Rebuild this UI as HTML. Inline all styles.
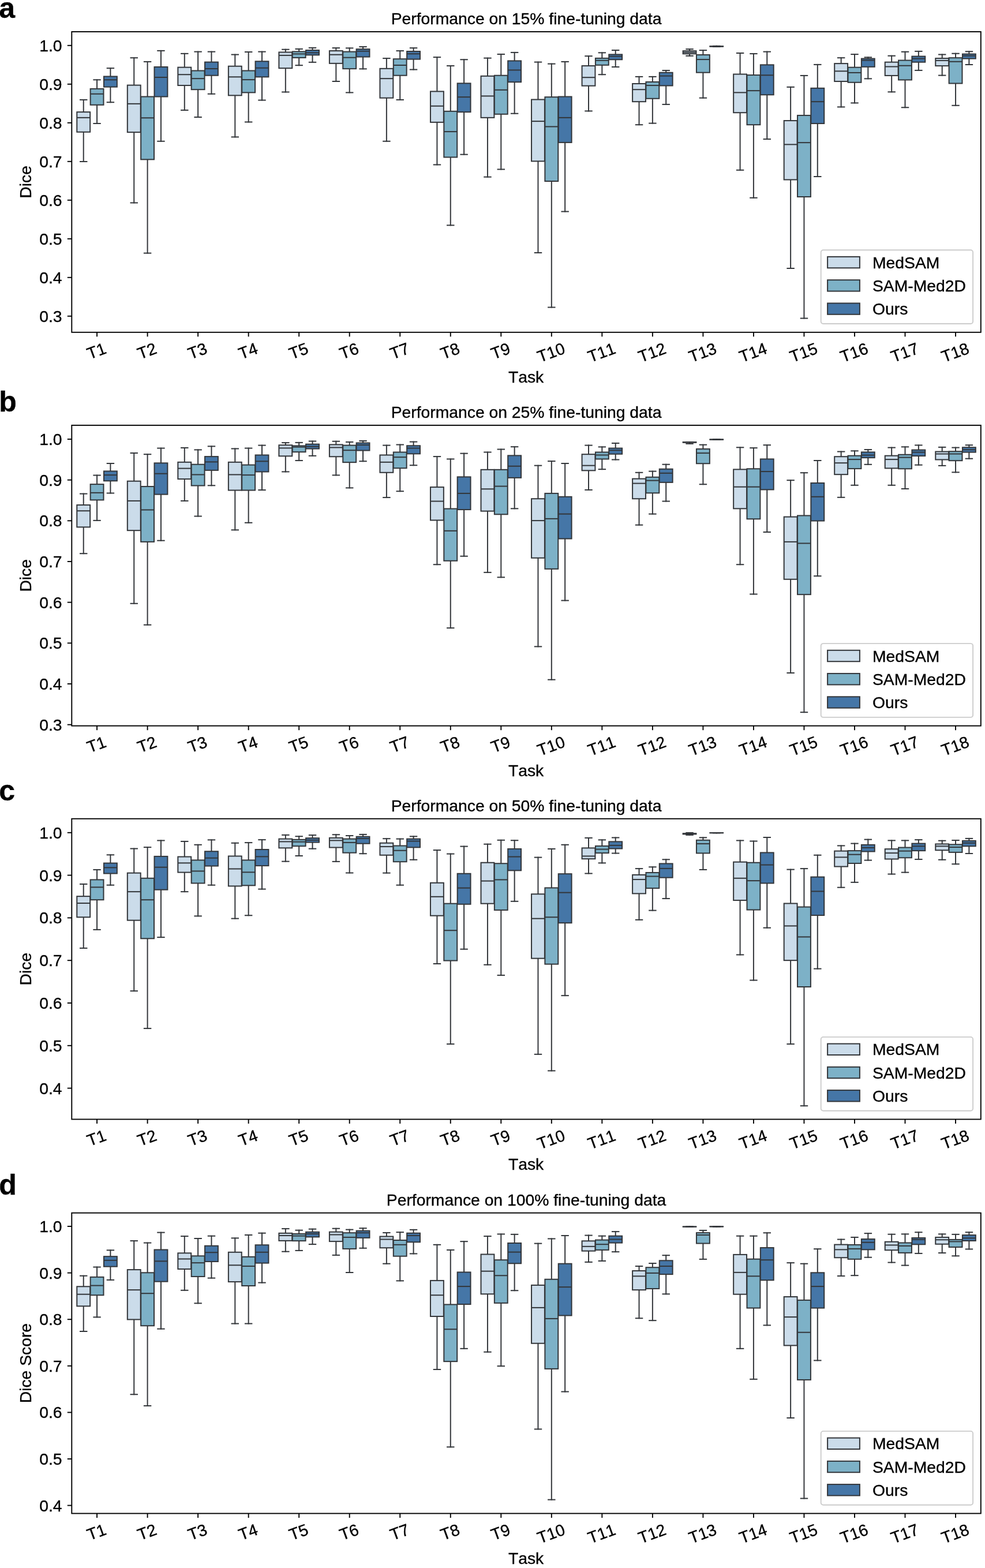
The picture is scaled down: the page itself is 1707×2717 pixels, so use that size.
<!DOCTYPE html><html><head><meta charset="utf-8"><title>Performance on fine-tuning data</title><style>html,body{margin:0;padding:0;background:#fff;}svg{display:block;}text{font-family:'Liberation Sans', Arial, Helvetica, sans-serif;fill:#000;stroke:#000;stroke-width:0.35px;font-kerning:none;}</style></head><body>
<svg width="1707" height="2717" viewBox="0 0 1707 2717">
<rect x="0" y="0" width="1707" height="2717" fill="#fff"/>
<text x="-1.7" y="30.5" font-size="50" font-weight="bold">a</text>
<text x="912.05" y="42.4" font-size="28.3" text-anchor="middle">Performance on 15% fine-tuning data</text>
<g stroke="#33363a" stroke-width="2" stroke-linecap="square">
<line x1="144.72" y1="172.92" x2="144.72" y2="194.12"/>
<line x1="144.72" y1="228.74" x2="144.72" y2="280.02"/>
<line x1="139" y1="172.92" x2="150.44" y2="172.92"/>
<line x1="139" y1="280.02" x2="150.44" y2="280.02"/>
<rect x="133.29" y="194.12" width="22.87" height="34.62" fill="#cbdcea" stroke-linejoin="miter"/>
<line x1="133.29" y1="203.86" x2="156.16" y2="203.86" stroke-linecap="butt"/>
<line x1="168.06" y1="138.3" x2="168.06" y2="153.88"/>
<line x1="168.06" y1="181.79" x2="168.06" y2="214.03"/>
<line x1="162.35" y1="138.3" x2="173.78" y2="138.3"/>
<line x1="162.35" y1="214.03" x2="173.78" y2="214.03"/>
<rect x="156.63" y="153.88" width="22.87" height="27.91" fill="#7db1c7" stroke-linejoin="miter"/>
<line x1="156.63" y1="162.75" x2="179.5" y2="162.75" stroke-linecap="butt"/>
<line x1="191.4" y1="118.18" x2="191.4" y2="132.46"/>
<line x1="191.4" y1="150.63" x2="191.4" y2="177.24"/>
<line x1="185.69" y1="118.18" x2="197.12" y2="118.18"/>
<line x1="185.69" y1="177.24" x2="197.12" y2="177.24"/>
<rect x="179.97" y="132.46" width="22.87" height="18.17" fill="#4576a7" stroke-linejoin="miter"/>
<line x1="179.97" y1="138.3" x2="202.84" y2="138.3" stroke-linecap="butt"/>
<line x1="232.25" y1="100.22" x2="232.25" y2="147.6"/>
<line x1="232.25" y1="229.17" x2="232.25" y2="351.42"/>
<line x1="226.53" y1="100.22" x2="237.97" y2="100.22"/>
<line x1="226.53" y1="351.42" x2="237.97" y2="351.42"/>
<rect x="220.81" y="147.6" width="22.87" height="81.57" fill="#cbdcea" stroke-linejoin="miter"/>
<line x1="220.81" y1="179.84" x2="243.69" y2="179.84" stroke-linecap="butt"/>
<line x1="255.59" y1="106.93" x2="255.59" y2="167.51"/>
<line x1="255.59" y1="276.34" x2="255.59" y2="438.61"/>
<line x1="249.87" y1="106.93" x2="261.31" y2="106.93"/>
<line x1="249.87" y1="438.61" x2="261.31" y2="438.61"/>
<rect x="244.15" y="167.51" width="22.87" height="108.83" fill="#7db1c7" stroke-linejoin="miter"/>
<line x1="244.15" y1="204.29" x2="267.03" y2="204.29" stroke-linecap="butt"/>
<line x1="278.93" y1="87.89" x2="278.93" y2="116.01"/>
<line x1="278.93" y1="167.51" x2="278.93" y2="244.75"/>
<line x1="273.21" y1="87.89" x2="284.65" y2="87.89"/>
<line x1="273.21" y1="244.75" x2="284.65" y2="244.75"/>
<rect x="267.5" y="116.01" width="22.87" height="51.49" fill="#4576a7" stroke-linejoin="miter"/>
<line x1="267.5" y1="133.97" x2="290.37" y2="133.97" stroke-linecap="butt"/>
<line x1="319.78" y1="92.86" x2="319.78" y2="116.66"/>
<line x1="319.78" y1="148.04" x2="319.78" y2="190.88"/>
<line x1="314.06" y1="92.86" x2="325.5" y2="92.86"/>
<line x1="314.06" y1="190.88" x2="325.5" y2="190.88"/>
<rect x="308.34" y="116.66" width="22.87" height="31.37" fill="#cbdcea" stroke-linejoin="miter"/>
<line x1="308.34" y1="129.21" x2="331.22" y2="129.21" stroke-linecap="butt"/>
<line x1="343.12" y1="89.62" x2="343.12" y2="122.5"/>
<line x1="343.12" y1="155.18" x2="343.12" y2="202.99"/>
<line x1="337.4" y1="89.62" x2="348.84" y2="89.62"/>
<line x1="337.4" y1="202.99" x2="348.84" y2="202.99"/>
<rect x="331.68" y="122.5" width="22.87" height="32.67" fill="#7db1c7" stroke-linejoin="miter"/>
<line x1="331.68" y1="136.14" x2="354.56" y2="136.14" stroke-linecap="butt"/>
<line x1="366.46" y1="89.62" x2="366.46" y2="107.58"/>
<line x1="366.46" y1="130.73" x2="366.46" y2="162.75"/>
<line x1="360.74" y1="89.62" x2="372.18" y2="89.62"/>
<line x1="360.74" y1="162.75" x2="372.18" y2="162.75"/>
<rect x="355.02" y="107.58" width="22.87" height="23.15" fill="#4576a7" stroke-linejoin="miter"/>
<line x1="355.02" y1="119.04" x2="377.9" y2="119.04" stroke-linecap="butt"/>
<line x1="407.31" y1="94.59" x2="407.31" y2="114.72"/>
<line x1="407.31" y1="165.34" x2="407.31" y2="237.39"/>
<line x1="401.59" y1="94.59" x2="413.02" y2="94.59"/>
<line x1="401.59" y1="237.39" x2="413.02" y2="237.39"/>
<rect x="395.87" y="114.72" width="22.87" height="50.63" fill="#cbdcea" stroke-linejoin="miter"/>
<line x1="395.87" y1="133.32" x2="418.74" y2="133.32" stroke-linecap="butt"/>
<line x1="430.65" y1="90.05" x2="430.65" y2="122.5"/>
<line x1="430.65" y1="160.37" x2="430.65" y2="211.43"/>
<line x1="424.93" y1="90.05" x2="436.37" y2="90.05"/>
<line x1="424.93" y1="211.43" x2="436.37" y2="211.43"/>
<rect x="419.21" y="122.5" width="22.87" height="37.86" fill="#7db1c7" stroke-linejoin="miter"/>
<line x1="419.21" y1="138.08" x2="442.08" y2="138.08" stroke-linecap="butt"/>
<line x1="453.99" y1="89.62" x2="453.99" y2="106.28"/>
<line x1="453.99" y1="133.32" x2="453.99" y2="173.57"/>
<line x1="448.27" y1="89.62" x2="459.71" y2="89.62"/>
<line x1="448.27" y1="173.57" x2="459.71" y2="173.57"/>
<rect x="442.55" y="106.28" width="22.87" height="27.05" fill="#4576a7" stroke-linejoin="miter"/>
<line x1="442.55" y1="117.75" x2="465.43" y2="117.75" stroke-linecap="butt"/>
<line x1="494.83" y1="85.7" x2="494.83" y2="90.46"/>
<line x1="494.83" y1="118.18" x2="494.83" y2="159.46"/>
<line x1="489.12" y1="85.7" x2="500.55" y2="85.7"/>
<line x1="489.12" y1="159.46" x2="500.55" y2="159.46"/>
<rect x="483.4" y="90.46" width="22.87" height="27.72" fill="#cbdcea" stroke-linejoin="miter"/>
<line x1="483.4" y1="95.94" x2="506.27" y2="95.94" stroke-linecap="butt"/>
<line x1="518.17" y1="84.87" x2="518.17" y2="89.39"/>
<line x1="518.17" y1="99.98" x2="518.17" y2="113.19"/>
<line x1="512.46" y1="84.87" x2="523.89" y2="84.87"/>
<line x1="512.46" y1="113.19" x2="523.89" y2="113.19"/>
<rect x="506.74" y="89.39" width="22.87" height="10.59" fill="#7db1c7" stroke-linejoin="miter"/>
<line x1="506.74" y1="93.44" x2="529.61" y2="93.44" stroke-linecap="butt"/>
<line x1="541.52" y1="82.85" x2="541.52" y2="87.01"/>
<line x1="541.52" y1="95.34" x2="541.52" y2="107.83"/>
<line x1="535.8" y1="82.85" x2="547.23" y2="82.85"/>
<line x1="535.8" y1="107.83" x2="547.23" y2="107.83"/>
<rect x="530.08" y="87.01" width="22.87" height="8.33" fill="#4576a7" stroke-linejoin="miter"/>
<line x1="530.08" y1="91.41" x2="552.95" y2="91.41" stroke-linecap="butt"/>
<line x1="582.36" y1="83.09" x2="582.36" y2="88.08"/>
<line x1="582.36" y1="109.85" x2="582.36" y2="141.02"/>
<line x1="576.64" y1="83.09" x2="588.08" y2="83.09"/>
<line x1="576.64" y1="141.02" x2="588.08" y2="141.02"/>
<rect x="570.92" y="88.08" width="22.87" height="21.77" fill="#cbdcea" stroke-linejoin="miter"/>
<line x1="570.92" y1="94.75" x2="593.8" y2="94.75" stroke-linecap="butt"/>
<line x1="605.7" y1="83.32" x2="605.7" y2="89.63"/>
<line x1="605.7" y1="119.13" x2="605.7" y2="160.42"/>
<line x1="599.98" y1="83.32" x2="611.42" y2="83.32"/>
<line x1="599.98" y1="160.42" x2="611.42" y2="160.42"/>
<rect x="594.27" y="89.63" width="22.87" height="29.5" fill="#7db1c7" stroke-linejoin="miter"/>
<line x1="594.27" y1="99.74" x2="617.14" y2="99.74" stroke-linecap="butt"/>
<line x1="629.04" y1="81.06" x2="629.04" y2="85.11"/>
<line x1="629.04" y1="98.55" x2="629.04" y2="119.37"/>
<line x1="623.33" y1="81.06" x2="634.76" y2="81.06"/>
<line x1="623.33" y1="119.37" x2="634.76" y2="119.37"/>
<rect x="617.61" y="85.11" width="22.87" height="13.44" fill="#4576a7" stroke-linejoin="miter"/>
<line x1="617.61" y1="88.68" x2="640.48" y2="88.68" stroke-linecap="butt"/>
<line x1="669.89" y1="101.09" x2="669.89" y2="118.83"/>
<line x1="669.89" y1="169.67" x2="669.89" y2="244.75"/>
<line x1="664.17" y1="101.09" x2="675.61" y2="101.09"/>
<line x1="664.17" y1="244.75" x2="675.61" y2="244.75"/>
<rect x="658.45" y="118.83" width="22.87" height="50.85" fill="#cbdcea" stroke-linejoin="miter"/>
<line x1="658.45" y1="136.14" x2="681.33" y2="136.14" stroke-linecap="butt"/>
<line x1="693.23" y1="88.1" x2="693.23" y2="102.17"/>
<line x1="693.23" y1="130.73" x2="693.23" y2="172.92"/>
<line x1="687.51" y1="88.1" x2="698.95" y2="88.1"/>
<line x1="687.51" y1="172.92" x2="698.95" y2="172.92"/>
<rect x="681.79" y="102.17" width="22.87" height="28.56" fill="#7db1c7" stroke-linejoin="miter"/>
<line x1="681.79" y1="112.99" x2="704.67" y2="112.99" stroke-linecap="butt"/>
<line x1="716.57" y1="83.13" x2="716.57" y2="88.97"/>
<line x1="716.57" y1="102.6" x2="716.57" y2="120.56"/>
<line x1="710.85" y1="83.13" x2="722.29" y2="83.13"/>
<line x1="710.85" y1="120.56" x2="722.29" y2="120.56"/>
<rect x="705.13" y="88.97" width="22.87" height="13.63" fill="#4576a7" stroke-linejoin="miter"/>
<line x1="705.13" y1="93.3" x2="728.01" y2="93.3" stroke-linecap="butt"/>
<line x1="757.42" y1="99.14" x2="757.42" y2="158.42"/>
<line x1="757.42" y1="211.86" x2="757.42" y2="285.43"/>
<line x1="751.7" y1="99.14" x2="763.14" y2="99.14"/>
<line x1="751.7" y1="285.43" x2="763.14" y2="285.43"/>
<rect x="745.98" y="158.42" width="22.87" height="53.44" fill="#cbdcea" stroke-linejoin="miter"/>
<line x1="745.98" y1="183.74" x2="768.85" y2="183.74" stroke-linecap="butt"/>
<line x1="780.76" y1="114.07" x2="780.76" y2="192.82"/>
<line x1="780.76" y1="272.44" x2="780.76" y2="390.36"/>
<line x1="775.04" y1="114.07" x2="786.48" y2="114.07"/>
<line x1="775.04" y1="390.36" x2="786.48" y2="390.36"/>
<rect x="769.32" y="192.82" width="22.87" height="79.62" fill="#7db1c7" stroke-linejoin="miter"/>
<line x1="769.32" y1="228.09" x2="792.2" y2="228.09" stroke-linecap="butt"/>
<line x1="804.1" y1="103.25" x2="804.1" y2="144.36"/>
<line x1="804.1" y1="194.12" x2="804.1" y2="267.68"/>
<line x1="798.38" y1="103.25" x2="809.82" y2="103.25"/>
<line x1="798.38" y1="267.68" x2="809.82" y2="267.68"/>
<rect x="792.66" y="144.36" width="22.87" height="49.76" fill="#4576a7" stroke-linejoin="miter"/>
<line x1="792.66" y1="168.16" x2="815.54" y2="168.16" stroke-linecap="butt"/>
<line x1="844.95" y1="100.65" x2="844.95" y2="131.81"/>
<line x1="844.95" y1="203.86" x2="844.95" y2="306.63"/>
<line x1="839.23" y1="100.65" x2="850.66" y2="100.65"/>
<line x1="839.23" y1="306.63" x2="850.66" y2="306.63"/>
<rect x="833.51" y="131.81" width="22.87" height="72.05" fill="#cbdcea" stroke-linejoin="miter"/>
<line x1="833.51" y1="166.43" x2="856.38" y2="166.43" stroke-linecap="butt"/>
<line x1="868.29" y1="93.95" x2="868.29" y2="130.73"/>
<line x1="868.29" y1="197.8" x2="868.29" y2="293.43"/>
<line x1="862.57" y1="93.95" x2="874" y2="93.95"/>
<line x1="862.57" y1="293.43" x2="874" y2="293.43"/>
<rect x="856.85" y="130.73" width="22.87" height="67.07" fill="#7db1c7" stroke-linejoin="miter"/>
<line x1="856.85" y1="155.82" x2="879.72" y2="155.82" stroke-linecap="butt"/>
<line x1="891.63" y1="90.92" x2="891.63" y2="105.41"/>
<line x1="891.63" y1="142.19" x2="891.63" y2="196.72"/>
<line x1="885.91" y1="90.92" x2="897.35" y2="90.92"/>
<line x1="885.91" y1="196.72" x2="897.35" y2="196.72"/>
<rect x="880.19" y="105.41" width="22.87" height="36.78" fill="#4576a7" stroke-linejoin="miter"/>
<line x1="880.19" y1="121.42" x2="903.06" y2="121.42" stroke-linecap="butt"/>
<line x1="932.47" y1="107.58" x2="932.47" y2="172.48"/>
<line x1="932.47" y1="279.37" x2="932.47" y2="437.96"/>
<line x1="926.75" y1="107.58" x2="938.19" y2="107.58"/>
<line x1="926.75" y1="437.96" x2="938.19" y2="437.96"/>
<rect x="921.04" y="172.48" width="22.87" height="106.88" fill="#cbdcea" stroke-linejoin="miter"/>
<line x1="921.04" y1="210.13" x2="943.91" y2="210.13" stroke-linecap="butt"/>
<line x1="955.81" y1="110.61" x2="955.81" y2="168.16"/>
<line x1="955.81" y1="313.99" x2="955.81" y2="532.51"/>
<line x1="950.1" y1="110.61" x2="961.53" y2="110.61"/>
<line x1="950.1" y1="532.51" x2="961.53" y2="532.51"/>
<rect x="944.38" y="168.16" width="22.87" height="145.83" fill="#7db1c7" stroke-linejoin="miter"/>
<line x1="944.38" y1="219.44" x2="967.25" y2="219.44" stroke-linecap="butt"/>
<line x1="979.15" y1="106.93" x2="979.15" y2="167.51"/>
<line x1="979.15" y1="246.91" x2="979.15" y2="366.56"/>
<line x1="973.44" y1="106.93" x2="984.87" y2="106.93"/>
<line x1="973.44" y1="366.56" x2="984.87" y2="366.56"/>
<rect x="967.72" y="167.51" width="22.87" height="79.4" fill="#4576a7" stroke-linejoin="miter"/>
<line x1="967.72" y1="203.86" x2="990.59" y2="203.86" stroke-linecap="butt"/>
<line x1="1020" y1="97.19" x2="1020" y2="114.07"/>
<line x1="1020" y1="148.68" x2="1020" y2="192.39"/>
<line x1="1014.28" y1="97.19" x2="1025.72" y2="97.19"/>
<line x1="1014.28" y1="192.39" x2="1025.72" y2="192.39"/>
<rect x="1008.56" y="114.07" width="22.87" height="34.62" fill="#cbdcea" stroke-linejoin="miter"/>
<line x1="1008.56" y1="134.19" x2="1031.44" y2="134.19" stroke-linecap="butt"/>
<line x1="1043.34" y1="91.35" x2="1043.34" y2="100.87"/>
<line x1="1043.34" y1="112.77" x2="1043.34" y2="129.21"/>
<line x1="1037.62" y1="91.35" x2="1049.06" y2="91.35"/>
<line x1="1037.62" y1="129.21" x2="1049.06" y2="129.21"/>
<rect x="1031.9" y="100.87" width="22.87" height="11.9" fill="#7db1c7" stroke-linejoin="miter"/>
<line x1="1031.9" y1="104.76" x2="1054.78" y2="104.76" stroke-linecap="butt"/>
<line x1="1066.68" y1="87.02" x2="1066.68" y2="94.38"/>
<line x1="1066.68" y1="103.25" x2="1066.68" y2="116.01"/>
<line x1="1060.96" y1="87.02" x2="1072.4" y2="87.02"/>
<line x1="1060.96" y1="116.01" x2="1072.4" y2="116.01"/>
<rect x="1055.25" y="94.38" width="22.87" height="8.87" fill="#4576a7" stroke-linejoin="miter"/>
<line x1="1055.25" y1="97.62" x2="1078.12" y2="97.62" stroke-linecap="butt"/>
<line x1="1107.53" y1="132.89" x2="1107.53" y2="145.01"/>
<line x1="1107.53" y1="176.16" x2="1107.53" y2="216.19"/>
<line x1="1101.81" y1="132.89" x2="1113.25" y2="132.89"/>
<line x1="1101.81" y1="216.19" x2="1113.25" y2="216.19"/>
<rect x="1096.09" y="145.01" width="22.87" height="31.16" fill="#cbdcea" stroke-linejoin="miter"/>
<line x1="1096.09" y1="155.18" x2="1118.97" y2="155.18" stroke-linecap="butt"/>
<line x1="1130.87" y1="132.89" x2="1130.87" y2="141.98"/>
<line x1="1130.87" y1="170.75" x2="1130.87" y2="213.59"/>
<line x1="1125.15" y1="132.89" x2="1136.59" y2="132.89"/>
<line x1="1125.15" y1="213.59" x2="1136.59" y2="213.59"/>
<rect x="1119.43" y="141.98" width="22.87" height="28.78" fill="#7db1c7" stroke-linejoin="miter"/>
<line x1="1119.43" y1="148.04" x2="1142.31" y2="148.04" stroke-linecap="butt"/>
<line x1="1154.21" y1="122.07" x2="1154.21" y2="125.75"/>
<line x1="1154.21" y1="148.47" x2="1154.21" y2="180.92"/>
<line x1="1148.49" y1="122.07" x2="1159.93" y2="122.07"/>
<line x1="1148.49" y1="180.92" x2="1159.93" y2="180.92"/>
<rect x="1142.77" y="125.75" width="22.87" height="22.72" fill="#4576a7" stroke-linejoin="miter"/>
<line x1="1142.77" y1="131.59" x2="1165.65" y2="131.59" stroke-linecap="butt"/>
<line x1="1195.06" y1="85.11" x2="1195.06" y2="88.2"/>
<line x1="1195.06" y1="93.26" x2="1195.06" y2="96.82"/>
<line x1="1189.34" y1="85.11" x2="1200.77" y2="85.11"/>
<line x1="1189.34" y1="96.82" x2="1200.77" y2="96.82"/>
<rect x="1183.62" y="88.2" width="22.87" height="5.06" fill="#cbdcea" stroke-linejoin="miter"/>
<line x1="1183.62" y1="90.7" x2="1206.49" y2="90.7" stroke-linecap="butt"/>
<line x1="1218.4" y1="87.13" x2="1218.4" y2="95.04"/>
<line x1="1218.4" y1="125.67" x2="1218.4" y2="169.69"/>
<line x1="1212.68" y1="87.13" x2="1224.12" y2="87.13"/>
<line x1="1212.68" y1="169.69" x2="1224.12" y2="169.69"/>
<rect x="1206.96" y="95.04" width="22.87" height="30.63" fill="#7db1c7" stroke-linejoin="miter"/>
<line x1="1206.96" y1="103.07" x2="1229.83" y2="103.07" stroke-linecap="butt"/>
<line x1="1241.74" y1="79.75" x2="1241.74" y2="80.11"/>
<line x1="1241.74" y1="80.58" x2="1241.74" y2="80.94"/>
<line x1="1236.02" y1="79.75" x2="1247.46" y2="79.75"/>
<line x1="1236.02" y1="80.94" x2="1247.46" y2="80.94"/>
<rect x="1230.3" y="80.11" width="22.87" height="0.48" fill="#4576a7" stroke-linejoin="miter"/>
<line x1="1230.3" y1="80.35" x2="1253.18" y2="80.35" stroke-linecap="butt"/>
<line x1="1282.58" y1="92" x2="1282.58" y2="128.56"/>
<line x1="1282.58" y1="195.2" x2="1282.58" y2="294.73"/>
<line x1="1276.87" y1="92" x2="1288.3" y2="92"/>
<line x1="1276.87" y1="294.73" x2="1288.3" y2="294.73"/>
<rect x="1271.15" y="128.56" width="22.87" height="66.64" fill="#cbdcea" stroke-linejoin="miter"/>
<line x1="1271.15" y1="160.37" x2="1294.02" y2="160.37" stroke-linecap="butt"/>
<line x1="1305.92" y1="93.08" x2="1305.92" y2="130.08"/>
<line x1="1305.92" y1="216.19" x2="1305.92" y2="342.76"/>
<line x1="1300.21" y1="93.08" x2="1311.64" y2="93.08"/>
<line x1="1300.21" y1="342.76" x2="1311.64" y2="342.76"/>
<rect x="1294.49" y="130.08" width="22.87" height="86.11" fill="#7db1c7" stroke-linejoin="miter"/>
<line x1="1294.49" y1="157.12" x2="1317.36" y2="157.12" stroke-linecap="butt"/>
<line x1="1329.27" y1="89.62" x2="1329.27" y2="112.34"/>
<line x1="1329.27" y1="164.26" x2="1329.27" y2="241.07"/>
<line x1="1323.55" y1="89.62" x2="1334.98" y2="89.62"/>
<line x1="1323.55" y1="241.07" x2="1334.98" y2="241.07"/>
<rect x="1317.83" y="112.34" width="22.87" height="51.93" fill="#4576a7" stroke-linejoin="miter"/>
<line x1="1317.83" y1="130.29" x2="1340.7" y2="130.29" stroke-linecap="butt"/>
<line x1="1370.11" y1="150.85" x2="1370.11" y2="209.05"/>
<line x1="1370.11" y1="311.39" x2="1370.11" y2="465.01"/>
<line x1="1364.39" y1="150.85" x2="1375.83" y2="150.85"/>
<line x1="1364.39" y1="465.01" x2="1375.83" y2="465.01"/>
<rect x="1358.67" y="209.05" width="22.87" height="102.34" fill="#cbdcea" stroke-linejoin="miter"/>
<line x1="1358.67" y1="250.37" x2="1381.55" y2="250.37" stroke-linecap="butt"/>
<line x1="1393.45" y1="130.94" x2="1393.45" y2="199.96"/>
<line x1="1393.45" y1="341.03" x2="1393.45" y2="551.55"/>
<line x1="1387.73" y1="130.94" x2="1399.17" y2="130.94"/>
<line x1="1387.73" y1="551.55" x2="1399.17" y2="551.55"/>
<rect x="1382.02" y="199.96" width="22.87" height="141.07" fill="#7db1c7" stroke-linejoin="miter"/>
<line x1="1382.02" y1="247.13" x2="1404.89" y2="247.13" stroke-linecap="butt"/>
<line x1="1416.79" y1="111.9" x2="1416.79" y2="152.8"/>
<line x1="1416.79" y1="214.03" x2="1416.79" y2="305.98"/>
<line x1="1411.08" y1="111.9" x2="1422.51" y2="111.9"/>
<line x1="1411.08" y1="305.98" x2="1422.51" y2="305.98"/>
<rect x="1405.36" y="152.8" width="22.87" height="61.23" fill="#4576a7" stroke-linejoin="miter"/>
<line x1="1405.36" y1="176.16" x2="1428.23" y2="176.16" stroke-linecap="butt"/>
<line x1="1457.64" y1="100.19" x2="1457.64" y2="110.1"/>
<line x1="1457.64" y1="141.04" x2="1457.64" y2="185.37"/>
<line x1="1451.92" y1="100.19" x2="1463.36" y2="100.19"/>
<line x1="1451.92" y1="185.37" x2="1463.36" y2="185.37"/>
<rect x="1446.2" y="110.1" width="22.87" height="30.94" fill="#cbdcea" stroke-linejoin="miter"/>
<line x1="1446.2" y1="123.31" x2="1469.08" y2="123.31" stroke-linecap="butt"/>
<line x1="1480.98" y1="94.11" x2="1480.98" y2="116.71"/>
<line x1="1480.98" y1="142.78" x2="1480.98" y2="178.42"/>
<line x1="1475.26" y1="94.11" x2="1486.7" y2="94.11"/>
<line x1="1475.26" y1="178.42" x2="1486.7" y2="178.42"/>
<rect x="1469.54" y="116.71" width="22.87" height="26.07" fill="#7db1c7" stroke-linejoin="miter"/>
<line x1="1469.54" y1="125.92" x2="1492.42" y2="125.92" stroke-linecap="butt"/>
<line x1="1504.32" y1="99.33" x2="1504.32" y2="101.59"/>
<line x1="1504.32" y1="115.84" x2="1504.32" y2="136.35"/>
<line x1="1498.6" y1="99.33" x2="1510.04" y2="99.33"/>
<line x1="1498.6" y1="136.35" x2="1510.04" y2="136.35"/>
<rect x="1492.88" y="101.59" width="22.87" height="14.25" fill="#4576a7" stroke-linejoin="miter"/>
<line x1="1492.88" y1="104.54" x2="1515.76" y2="104.54" stroke-linecap="butt"/>
<line x1="1545.17" y1="96.72" x2="1545.17" y2="107.67"/>
<line x1="1545.17" y1="130.96" x2="1545.17" y2="159.3"/>
<line x1="1539.45" y1="96.72" x2="1550.89" y2="96.72"/>
<line x1="1539.45" y1="159.3" x2="1550.89" y2="159.3"/>
<rect x="1533.73" y="107.67" width="22.87" height="23.29" fill="#cbdcea" stroke-linejoin="miter"/>
<line x1="1533.73" y1="115.49" x2="1556.6" y2="115.49" stroke-linecap="butt"/>
<line x1="1568.51" y1="89.77" x2="1568.51" y2="104.54"/>
<line x1="1568.51" y1="138.44" x2="1568.51" y2="186.24"/>
<line x1="1562.79" y1="89.77" x2="1574.23" y2="89.77"/>
<line x1="1562.79" y1="186.24" x2="1574.23" y2="186.24"/>
<rect x="1557.07" y="104.54" width="22.87" height="33.9" fill="#7db1c7" stroke-linejoin="miter"/>
<line x1="1557.07" y1="113.75" x2="1579.95" y2="113.75" stroke-linecap="butt"/>
<line x1="1591.85" y1="88.9" x2="1591.85" y2="97.59"/>
<line x1="1591.85" y1="107.67" x2="1591.85" y2="121.92"/>
<line x1="1586.13" y1="88.9" x2="1597.57" y2="88.9"/>
<line x1="1586.13" y1="121.92" x2="1597.57" y2="121.92"/>
<rect x="1580.41" y="97.59" width="22.87" height="10.08" fill="#4576a7" stroke-linejoin="miter"/>
<line x1="1580.41" y1="101.59" x2="1603.29" y2="101.59" stroke-linecap="butt"/>
<line x1="1632.7" y1="94.46" x2="1632.7" y2="101.06"/>
<line x1="1632.7" y1="114.1" x2="1632.7" y2="130.61"/>
<line x1="1626.98" y1="94.46" x2="1638.41" y2="94.46"/>
<line x1="1626.98" y1="130.61" x2="1638.41" y2="130.61"/>
<rect x="1621.26" y="101.06" width="22.87" height="13.04" fill="#cbdcea" stroke-linejoin="miter"/>
<line x1="1621.26" y1="104.89" x2="1644.13" y2="104.89" stroke-linecap="butt"/>
<line x1="1656.04" y1="92.72" x2="1656.04" y2="100.19"/>
<line x1="1656.04" y1="144.52" x2="1656.04" y2="182.76"/>
<line x1="1650.32" y1="92.72" x2="1661.75" y2="92.72"/>
<line x1="1650.32" y1="182.76" x2="1661.75" y2="182.76"/>
<rect x="1644.6" y="100.19" width="22.87" height="44.33" fill="#7db1c7" stroke-linejoin="miter"/>
<line x1="1644.6" y1="106.8" x2="1667.47" y2="106.8" stroke-linecap="butt"/>
<line x1="1679.38" y1="89.24" x2="1679.38" y2="93.59"/>
<line x1="1679.38" y1="101.59" x2="1679.38" y2="112.02"/>
<line x1="1673.66" y1="89.24" x2="1685.1" y2="89.24"/>
<line x1="1673.66" y1="112.02" x2="1685.1" y2="112.02"/>
<rect x="1667.94" y="93.59" width="22.87" height="8" fill="#4576a7" stroke-linejoin="miter"/>
<line x1="1667.94" y1="96.72" x2="1690.81" y2="96.72" stroke-linecap="butt"/>
</g>
<rect x="124.3" y="55" width="1575.5" height="520.8" fill="none" stroke="#000" stroke-width="1.9"/>
<line x1="116.8" y1="78.8" x2="124.3" y2="78.8" stroke="#000" stroke-width="1.9"/>
<text x="107.6" y="88.8" font-size="28.3" text-anchor="end">1.0</text>
<line x1="116.8" y1="145.8" x2="124.3" y2="145.8" stroke="#000" stroke-width="1.9"/>
<text x="107.6" y="155.8" font-size="28.3" text-anchor="end">0.9</text>
<line x1="116.8" y1="212.8" x2="124.3" y2="212.8" stroke="#000" stroke-width="1.9"/>
<text x="107.6" y="222.8" font-size="28.3" text-anchor="end">0.8</text>
<line x1="116.8" y1="279.8" x2="124.3" y2="279.8" stroke="#000" stroke-width="1.9"/>
<text x="107.6" y="289.8" font-size="28.3" text-anchor="end">0.7</text>
<line x1="116.8" y1="346.8" x2="124.3" y2="346.8" stroke="#000" stroke-width="1.9"/>
<text x="107.6" y="356.8" font-size="28.3" text-anchor="end">0.6</text>
<line x1="116.8" y1="413.8" x2="124.3" y2="413.8" stroke="#000" stroke-width="1.9"/>
<text x="107.6" y="423.8" font-size="28.3" text-anchor="end">0.5</text>
<line x1="116.8" y1="480.8" x2="124.3" y2="480.8" stroke="#000" stroke-width="1.9"/>
<text x="107.6" y="490.8" font-size="28.3" text-anchor="end">0.4</text>
<line x1="116.8" y1="547.8" x2="124.3" y2="547.8" stroke="#000" stroke-width="1.9"/>
<text x="107.6" y="557.8" font-size="28.3" text-anchor="end">0.3</text>
<line x1="168.06" y1="575.8" x2="168.06" y2="583.3" stroke="#000" stroke-width="1.9"/>
<text transform="translate(168.06,610.31) rotate(-20)" x="0" y="7.36" font-size="28.3" text-anchor="middle">T1</text>
<line x1="255.59" y1="575.8" x2="255.59" y2="583.3" stroke="#000" stroke-width="1.9"/>
<text transform="translate(255.59,610.31) rotate(-20)" x="0" y="7.36" font-size="28.3" text-anchor="middle">T2</text>
<line x1="343.12" y1="575.8" x2="343.12" y2="583.3" stroke="#000" stroke-width="1.9"/>
<text transform="translate(343.12,610.31) rotate(-20)" x="0" y="7.36" font-size="28.3" text-anchor="middle">T3</text>
<line x1="430.65" y1="575.8" x2="430.65" y2="583.3" stroke="#000" stroke-width="1.9"/>
<text transform="translate(430.65,610.31) rotate(-20)" x="0" y="7.36" font-size="28.3" text-anchor="middle">T4</text>
<line x1="518.17" y1="575.8" x2="518.17" y2="583.3" stroke="#000" stroke-width="1.9"/>
<text transform="translate(518.17,610.31) rotate(-20)" x="0" y="7.36" font-size="28.3" text-anchor="middle">T5</text>
<line x1="605.7" y1="575.8" x2="605.7" y2="583.3" stroke="#000" stroke-width="1.9"/>
<text transform="translate(605.7,610.31) rotate(-20)" x="0" y="7.36" font-size="28.3" text-anchor="middle">T6</text>
<line x1="693.23" y1="575.8" x2="693.23" y2="583.3" stroke="#000" stroke-width="1.9"/>
<text transform="translate(693.23,610.31) rotate(-20)" x="0" y="7.36" font-size="28.3" text-anchor="middle">T7</text>
<line x1="780.76" y1="575.8" x2="780.76" y2="583.3" stroke="#000" stroke-width="1.9"/>
<text transform="translate(780.76,610.31) rotate(-20)" x="0" y="7.36" font-size="28.3" text-anchor="middle">T8</text>
<line x1="868.29" y1="575.8" x2="868.29" y2="583.3" stroke="#000" stroke-width="1.9"/>
<text transform="translate(868.29,610.31) rotate(-20)" x="0" y="7.36" font-size="28.3" text-anchor="middle">T9</text>
<line x1="955.81" y1="575.8" x2="955.81" y2="583.3" stroke="#000" stroke-width="1.9"/>
<text transform="translate(955.81,613) rotate(-20)" x="0" y="7.36" font-size="28.3" text-anchor="middle">T10</text>
<line x1="1043.34" y1="575.8" x2="1043.34" y2="583.3" stroke="#000" stroke-width="1.9"/>
<text transform="translate(1043.34,613) rotate(-20)" x="0" y="7.36" font-size="28.3" text-anchor="middle">T11</text>
<line x1="1130.87" y1="575.8" x2="1130.87" y2="583.3" stroke="#000" stroke-width="1.9"/>
<text transform="translate(1130.87,613) rotate(-20)" x="0" y="7.36" font-size="28.3" text-anchor="middle">T12</text>
<line x1="1218.4" y1="575.8" x2="1218.4" y2="583.3" stroke="#000" stroke-width="1.9"/>
<text transform="translate(1218.4,613) rotate(-20)" x="0" y="7.36" font-size="28.3" text-anchor="middle">T13</text>
<line x1="1305.92" y1="575.8" x2="1305.92" y2="583.3" stroke="#000" stroke-width="1.9"/>
<text transform="translate(1305.92,613) rotate(-20)" x="0" y="7.36" font-size="28.3" text-anchor="middle">T14</text>
<line x1="1393.45" y1="575.8" x2="1393.45" y2="583.3" stroke="#000" stroke-width="1.9"/>
<text transform="translate(1393.45,613) rotate(-20)" x="0" y="7.36" font-size="28.3" text-anchor="middle">T15</text>
<line x1="1480.98" y1="575.8" x2="1480.98" y2="583.3" stroke="#000" stroke-width="1.9"/>
<text transform="translate(1480.98,613) rotate(-20)" x="0" y="7.36" font-size="28.3" text-anchor="middle">T16</text>
<line x1="1568.51" y1="575.8" x2="1568.51" y2="583.3" stroke="#000" stroke-width="1.9"/>
<text transform="translate(1568.51,613) rotate(-20)" x="0" y="7.36" font-size="28.3" text-anchor="middle">T17</text>
<line x1="1656.04" y1="575.8" x2="1656.04" y2="583.3" stroke="#000" stroke-width="1.9"/>
<text transform="translate(1656.04,613) rotate(-20)" x="0" y="7.36" font-size="28.3" text-anchor="middle">T18</text>
<text x="911.55" y="663.3" font-size="28.3" text-anchor="middle">Task</text>
<text transform="translate(53.5,315.4) rotate(-90)" x="0" y="0" font-size="28.3" text-anchor="middle">Dice</text>
<rect x="1422.7" y="433.2" width="263.4" height="127.8" rx="4" ry="4" fill="#fff" fill-opacity="0.8" stroke="#cccccc" stroke-width="1.9"/>
<rect x="1434.1" y="444.9" width="55.8" height="19.4" fill="#cbdcea" stroke="#33363a" stroke-width="2"/>
<text x="1512" y="464.6" font-size="28.3">MedSAM</text>
<rect x="1434.1" y="485.15" width="55.8" height="19.4" fill="#7db1c7" stroke="#33363a" stroke-width="2"/>
<text x="1512" y="504.85" font-size="28.3">SAM-Med2D</text>
<rect x="1434.1" y="525.4" width="55.8" height="19.4" fill="#4576a7" stroke="#33363a" stroke-width="2"/>
<text x="1512" y="545.1" font-size="28.3">Ours</text>
<text x="-1.7" y="713" font-size="50" font-weight="bold">b</text>
<text x="912.05" y="724.3" font-size="28.3" text-anchor="middle">Performance on 25% fine-tuning data</text>
<g stroke="#33363a" stroke-width="2" stroke-linecap="square">
<line x1="144.72" y1="855.57" x2="144.72" y2="875.04"/>
<line x1="144.72" y1="913.34" x2="144.72" y2="959.2"/>
<line x1="139" y1="855.57" x2="150.44" y2="855.57"/>
<line x1="139" y1="959.2" x2="150.44" y2="959.2"/>
<rect x="133.29" y="875.04" width="22.87" height="38.3" fill="#cbdcea" stroke-linejoin="miter"/>
<line x1="133.29" y1="885.21" x2="156.16" y2="885.21" stroke-linecap="butt"/>
<line x1="168.06" y1="823.54" x2="168.06" y2="839.12"/>
<line x1="168.06" y1="866.38" x2="168.06" y2="901.87"/>
<line x1="162.35" y1="823.54" x2="173.78" y2="823.54"/>
<line x1="162.35" y1="901.87" x2="173.78" y2="901.87"/>
<rect x="156.63" y="839.12" width="22.87" height="27.26" fill="#7db1c7" stroke-linejoin="miter"/>
<line x1="156.63" y1="853.84" x2="179.5" y2="853.84" stroke-linecap="butt"/>
<line x1="191.4" y1="802.99" x2="191.4" y2="816.4"/>
<line x1="191.4" y1="833.28" x2="191.4" y2="854.48"/>
<line x1="185.69" y1="802.99" x2="197.12" y2="802.99"/>
<line x1="185.69" y1="854.48" x2="197.12" y2="854.48"/>
<rect x="179.97" y="816.4" width="22.87" height="16.88" fill="#4576a7" stroke-linejoin="miter"/>
<line x1="179.97" y1="823.11" x2="202.84" y2="823.11" stroke-linecap="butt"/>
<line x1="232.25" y1="785.03" x2="232.25" y2="833.71"/>
<line x1="232.25" y1="919.18" x2="232.25" y2="1045.75"/>
<line x1="226.53" y1="785.03" x2="237.97" y2="785.03"/>
<line x1="226.53" y1="1045.75" x2="237.97" y2="1045.75"/>
<rect x="220.81" y="833.71" width="22.87" height="85.46" fill="#cbdcea" stroke-linejoin="miter"/>
<line x1="220.81" y1="867.9" x2="243.69" y2="867.9" stroke-linecap="butt"/>
<line x1="255.59" y1="787.2" x2="255.59" y2="843.02"/>
<line x1="255.59" y1="938.87" x2="255.59" y2="1082.75"/>
<line x1="249.87" y1="787.2" x2="261.31" y2="787.2"/>
<line x1="249.87" y1="1082.75" x2="261.31" y2="1082.75"/>
<rect x="244.15" y="843.02" width="22.87" height="95.85" fill="#7db1c7" stroke-linejoin="miter"/>
<line x1="244.15" y1="883.48" x2="267.03" y2="883.48" stroke-linecap="butt"/>
<line x1="278.93" y1="776.59" x2="278.93" y2="802.34"/>
<line x1="278.93" y1="856.65" x2="278.93" y2="936.7"/>
<line x1="273.21" y1="776.59" x2="284.65" y2="776.59"/>
<line x1="273.21" y1="936.7" x2="284.65" y2="936.7"/>
<rect x="267.5" y="802.34" width="22.87" height="54.31" fill="#4576a7" stroke-linejoin="miter"/>
<line x1="267.5" y1="820.73" x2="290.37" y2="820.73" stroke-linecap="butt"/>
<line x1="319.78" y1="775.95" x2="319.78" y2="800.83"/>
<line x1="319.78" y1="830.04" x2="319.78" y2="867.9"/>
<line x1="314.06" y1="775.95" x2="325.5" y2="775.95"/>
<line x1="314.06" y1="867.9" x2="325.5" y2="867.9"/>
<rect x="308.34" y="800.83" width="22.87" height="29.21" fill="#cbdcea" stroke-linejoin="miter"/>
<line x1="308.34" y1="811.64" x2="331.22" y2="811.64" stroke-linecap="butt"/>
<line x1="343.12" y1="779.41" x2="343.12" y2="804.72"/>
<line x1="343.12" y1="841.5" x2="343.12" y2="894.51"/>
<line x1="337.4" y1="779.41" x2="348.84" y2="779.41"/>
<line x1="337.4" y1="894.51" x2="348.84" y2="894.51"/>
<rect x="331.68" y="804.72" width="22.87" height="36.78" fill="#7db1c7" stroke-linejoin="miter"/>
<line x1="331.68" y1="822.46" x2="354.56" y2="822.46" stroke-linecap="butt"/>
<line x1="366.46" y1="773.35" x2="366.46" y2="791.09"/>
<line x1="366.46" y1="814.89" x2="366.46" y2="841.29"/>
<line x1="360.74" y1="773.35" x2="372.18" y2="773.35"/>
<line x1="360.74" y1="841.29" x2="372.18" y2="841.29"/>
<rect x="355.02" y="791.09" width="22.87" height="23.8" fill="#4576a7" stroke-linejoin="miter"/>
<line x1="355.02" y1="800.39" x2="377.9" y2="800.39" stroke-linecap="butt"/>
<line x1="407.31" y1="777.46" x2="407.31" y2="800.83"/>
<line x1="407.31" y1="849.51" x2="407.31" y2="918.31"/>
<line x1="401.59" y1="777.46" x2="413.02" y2="777.46"/>
<line x1="401.59" y1="918.31" x2="413.02" y2="918.31"/>
<rect x="395.87" y="800.83" width="22.87" height="48.68" fill="#cbdcea" stroke-linejoin="miter"/>
<line x1="395.87" y1="822.46" x2="418.74" y2="822.46" stroke-linecap="butt"/>
<line x1="430.65" y1="776.59" x2="430.65" y2="805.59"/>
<line x1="430.65" y1="849.51" x2="430.65" y2="905.76"/>
<line x1="424.93" y1="776.59" x2="436.37" y2="776.59"/>
<line x1="424.93" y1="905.76" x2="436.37" y2="905.76"/>
<rect x="419.21" y="805.59" width="22.87" height="43.92" fill="#7db1c7" stroke-linejoin="miter"/>
<line x1="419.21" y1="823.11" x2="442.08" y2="823.11" stroke-linecap="butt"/>
<line x1="453.99" y1="771.62" x2="453.99" y2="788.49"/>
<line x1="453.99" y1="817.49" x2="453.99" y2="849.08"/>
<line x1="448.27" y1="771.62" x2="459.71" y2="771.62"/>
<line x1="448.27" y1="849.08" x2="459.71" y2="849.08"/>
<rect x="442.55" y="788.49" width="22.87" height="28.99" fill="#4576a7" stroke-linejoin="miter"/>
<line x1="442.55" y1="799.31" x2="465.43" y2="799.31" stroke-linecap="butt"/>
<line x1="494.83" y1="767.11" x2="494.83" y2="771.27"/>
<line x1="494.83" y1="790.31" x2="494.83" y2="817.43"/>
<line x1="489.12" y1="767.11" x2="500.55" y2="767.11"/>
<line x1="489.12" y1="817.43" x2="500.55" y2="817.43"/>
<rect x="483.4" y="771.27" width="22.87" height="19.04" fill="#cbdcea" stroke-linejoin="miter"/>
<line x1="483.4" y1="776.39" x2="506.27" y2="776.39" stroke-linecap="butt"/>
<line x1="518.17" y1="766.87" x2="518.17" y2="772.46"/>
<line x1="518.17" y1="783.17" x2="518.17" y2="798.04"/>
<line x1="512.46" y1="766.87" x2="523.89" y2="766.87"/>
<line x1="512.46" y1="798.04" x2="523.89" y2="798.04"/>
<rect x="506.74" y="772.46" width="22.87" height="10.71" fill="#7db1c7" stroke-linejoin="miter"/>
<line x1="506.74" y1="774.6" x2="529.61" y2="774.6" stroke-linecap="butt"/>
<line x1="541.52" y1="764.49" x2="541.52" y2="769.61"/>
<line x1="541.52" y1="777.58" x2="541.52" y2="789.83"/>
<line x1="535.8" y1="764.49" x2="547.23" y2="764.49"/>
<line x1="535.8" y1="789.83" x2="547.23" y2="789.83"/>
<rect x="530.08" y="769.61" width="22.87" height="7.97" fill="#4576a7" stroke-linejoin="miter"/>
<line x1="530.08" y1="773.77" x2="552.95" y2="773.77" stroke-linecap="butt"/>
<line x1="582.36" y1="764.73" x2="582.36" y2="770.44"/>
<line x1="582.36" y1="791.26" x2="582.36" y2="823.38"/>
<line x1="576.64" y1="764.73" x2="588.08" y2="764.73"/>
<line x1="576.64" y1="823.38" x2="588.08" y2="823.38"/>
<rect x="570.92" y="770.44" width="22.87" height="20.82" fill="#cbdcea" stroke-linejoin="miter"/>
<line x1="570.92" y1="775.44" x2="593.8" y2="775.44" stroke-linecap="butt"/>
<line x1="605.7" y1="765.92" x2="605.7" y2="771.63"/>
<line x1="605.7" y1="801.13" x2="605.7" y2="845.39"/>
<line x1="599.98" y1="765.92" x2="611.42" y2="765.92"/>
<line x1="599.98" y1="845.39" x2="611.42" y2="845.39"/>
<rect x="594.27" y="771.63" width="22.87" height="29.5" fill="#7db1c7" stroke-linejoin="miter"/>
<line x1="594.27" y1="780.2" x2="617.14" y2="780.2" stroke-linecap="butt"/>
<line x1="629.04" y1="763.9" x2="629.04" y2="767.47"/>
<line x1="629.04" y1="780.55" x2="629.04" y2="799.23"/>
<line x1="623.33" y1="763.9" x2="634.76" y2="763.9"/>
<line x1="623.33" y1="799.23" x2="634.76" y2="799.23"/>
<rect x="617.61" y="767.47" width="22.87" height="13.09" fill="#4576a7" stroke-linejoin="miter"/>
<line x1="617.61" y1="771.04" x2="640.48" y2="771.04" stroke-linecap="butt"/>
<line x1="669.89" y1="771.62" x2="669.89" y2="788.49"/>
<line x1="669.89" y1="818.78" x2="669.89" y2="862.06"/>
<line x1="664.17" y1="771.62" x2="675.61" y2="771.62"/>
<line x1="664.17" y1="862.06" x2="675.61" y2="862.06"/>
<rect x="658.45" y="788.49" width="22.87" height="30.29" fill="#cbdcea" stroke-linejoin="miter"/>
<line x1="658.45" y1="800.83" x2="681.33" y2="800.83" stroke-linecap="butt"/>
<line x1="693.23" y1="770.54" x2="693.23" y2="783.52"/>
<line x1="693.23" y1="811.21" x2="693.23" y2="851.24"/>
<line x1="687.51" y1="770.54" x2="698.95" y2="770.54"/>
<line x1="687.51" y1="851.24" x2="698.95" y2="851.24"/>
<rect x="681.79" y="783.52" width="22.87" height="27.69" fill="#7db1c7" stroke-linejoin="miter"/>
<line x1="681.79" y1="792.17" x2="704.67" y2="792.17" stroke-linecap="butt"/>
<line x1="716.57" y1="765.56" x2="716.57" y2="772.27"/>
<line x1="716.57" y1="786.33" x2="716.57" y2="806.24"/>
<line x1="710.85" y1="765.56" x2="722.29" y2="765.56"/>
<line x1="710.85" y1="806.24" x2="722.29" y2="806.24"/>
<rect x="705.13" y="772.27" width="22.87" height="14.06" fill="#4576a7" stroke-linejoin="miter"/>
<line x1="705.13" y1="776.59" x2="728.01" y2="776.59" stroke-linecap="butt"/>
<line x1="757.42" y1="791.09" x2="757.42" y2="844.1"/>
<line x1="757.42" y1="901.44" x2="757.42" y2="978.24"/>
<line x1="751.7" y1="791.09" x2="763.14" y2="791.09"/>
<line x1="751.7" y1="978.24" x2="763.14" y2="978.24"/>
<rect x="745.98" y="844.1" width="22.87" height="57.34" fill="#cbdcea" stroke-linejoin="miter"/>
<line x1="745.98" y1="868.55" x2="768.85" y2="868.55" stroke-linecap="butt"/>
<line x1="780.76" y1="795.42" x2="780.76" y2="881.53"/>
<line x1="780.76" y1="971.75" x2="780.76" y2="1088.16"/>
<line x1="775.04" y1="795.42" x2="786.48" y2="795.42"/>
<line x1="775.04" y1="1088.16" x2="786.48" y2="1088.16"/>
<rect x="769.32" y="881.53" width="22.87" height="90.22" fill="#7db1c7" stroke-linejoin="miter"/>
<line x1="769.32" y1="919.83" x2="792.2" y2="919.83" stroke-linecap="butt"/>
<line x1="804.1" y1="785.68" x2="804.1" y2="826.36"/>
<line x1="804.1" y1="883.04" x2="804.1" y2="963.75"/>
<line x1="798.38" y1="785.68" x2="809.82" y2="785.68"/>
<line x1="798.38" y1="963.75" x2="809.82" y2="963.75"/>
<rect x="792.66" y="826.36" width="22.87" height="56.69" fill="#4576a7" stroke-linejoin="miter"/>
<line x1="792.66" y1="854.92" x2="815.54" y2="854.92" stroke-linecap="butt"/>
<line x1="844.95" y1="783.52" x2="844.95" y2="813.81"/>
<line x1="844.95" y1="885.64" x2="844.95" y2="991.87"/>
<line x1="839.23" y1="783.52" x2="850.66" y2="783.52"/>
<line x1="839.23" y1="991.87" x2="850.66" y2="991.87"/>
<rect x="833.51" y="813.81" width="22.87" height="71.83" fill="#cbdcea" stroke-linejoin="miter"/>
<line x1="833.51" y1="847.34" x2="856.38" y2="847.34" stroke-linecap="butt"/>
<line x1="868.29" y1="778.54" x2="868.29" y2="813.81"/>
<line x1="868.29" y1="891.27" x2="868.29" y2="1000.31"/>
<line x1="862.57" y1="778.54" x2="874" y2="778.54"/>
<line x1="862.57" y1="1000.31" x2="874" y2="1000.31"/>
<rect x="856.85" y="813.81" width="22.87" height="77.46" fill="#7db1c7" stroke-linejoin="miter"/>
<line x1="856.85" y1="842.58" x2="879.72" y2="842.58" stroke-linecap="butt"/>
<line x1="891.63" y1="774.21" x2="891.63" y2="789.36"/>
<line x1="891.63" y1="827.87" x2="891.63" y2="881.31"/>
<line x1="885.91" y1="774.21" x2="897.35" y2="774.21"/>
<line x1="885.91" y1="881.31" x2="897.35" y2="881.31"/>
<rect x="880.19" y="789.36" width="22.87" height="38.51" fill="#4576a7" stroke-linejoin="miter"/>
<line x1="880.19" y1="807.75" x2="903.06" y2="807.75" stroke-linecap="butt"/>
<line x1="932.47" y1="806.67" x2="932.47" y2="864.22"/>
<line x1="932.47" y1="966.78" x2="932.47" y2="1120.39"/>
<line x1="926.75" y1="806.67" x2="938.19" y2="806.67"/>
<line x1="926.75" y1="1120.39" x2="938.19" y2="1120.39"/>
<rect x="921.04" y="864.22" width="22.87" height="102.56" fill="#cbdcea" stroke-linejoin="miter"/>
<line x1="921.04" y1="902.08" x2="943.91" y2="902.08" stroke-linecap="butt"/>
<line x1="955.81" y1="799.1" x2="955.81" y2="854.92"/>
<line x1="955.81" y1="985.82" x2="955.81" y2="1177.73"/>
<line x1="950.1" y1="799.1" x2="961.53" y2="799.1"/>
<line x1="950.1" y1="1177.73" x2="961.53" y2="1177.73"/>
<rect x="944.38" y="854.92" width="22.87" height="130.9" fill="#7db1c7" stroke-linejoin="miter"/>
<line x1="944.38" y1="898.84" x2="967.25" y2="898.84" stroke-linecap="butt"/>
<line x1="979.15" y1="802.99" x2="979.15" y2="860.76"/>
<line x1="979.15" y1="933.46" x2="979.15" y2="1040.56"/>
<line x1="973.44" y1="802.99" x2="984.87" y2="802.99"/>
<line x1="973.44" y1="1040.56" x2="984.87" y2="1040.56"/>
<rect x="967.72" y="860.76" width="22.87" height="72.7" fill="#4576a7" stroke-linejoin="miter"/>
<line x1="967.72" y1="890.62" x2="990.59" y2="890.62" stroke-linecap="butt"/>
<line x1="1020" y1="771.62" x2="1020" y2="787.2"/>
<line x1="1020" y1="815.32" x2="1020" y2="848.86"/>
<line x1="1014.28" y1="771.62" x2="1025.72" y2="771.62"/>
<line x1="1014.28" y1="848.86" x2="1025.72" y2="848.86"/>
<rect x="1008.56" y="787.2" width="22.87" height="28.13" fill="#cbdcea" stroke-linejoin="miter"/>
<line x1="1008.56" y1="806.67" x2="1031.44" y2="806.67" stroke-linecap="butt"/>
<line x1="1043.34" y1="774.43" x2="1043.34" y2="783.52"/>
<line x1="1043.34" y1="795.42" x2="1043.34" y2="813.16"/>
<line x1="1037.62" y1="774.43" x2="1049.06" y2="774.43"/>
<line x1="1037.62" y1="813.16" x2="1049.06" y2="813.16"/>
<rect x="1031.9" y="783.52" width="22.87" height="11.9" fill="#7db1c7" stroke-linejoin="miter"/>
<line x1="1031.9" y1="788.49" x2="1054.78" y2="788.49" stroke-linecap="butt"/>
<line x1="1066.68" y1="767.94" x2="1066.68" y2="776.59"/>
<line x1="1066.68" y1="786.76" x2="1066.68" y2="796.5"/>
<line x1="1060.96" y1="767.94" x2="1072.4" y2="767.94"/>
<line x1="1060.96" y1="796.5" x2="1072.4" y2="796.5"/>
<rect x="1055.25" y="776.59" width="22.87" height="10.17" fill="#4576a7" stroke-linejoin="miter"/>
<line x1="1055.25" y1="780.27" x2="1078.12" y2="780.27" stroke-linecap="butt"/>
<line x1="1107.53" y1="818.78" x2="1107.53" y2="829.6"/>
<line x1="1107.53" y1="864.22" x2="1107.53" y2="909.66"/>
<line x1="1101.81" y1="818.78" x2="1113.25" y2="818.78"/>
<line x1="1101.81" y1="909.66" x2="1113.25" y2="909.66"/>
<rect x="1096.09" y="829.6" width="22.87" height="34.62" fill="#cbdcea" stroke-linejoin="miter"/>
<line x1="1096.09" y1="837.61" x2="1118.97" y2="837.61" stroke-linecap="butt"/>
<line x1="1130.87" y1="816.62" x2="1130.87" y2="826.79"/>
<line x1="1130.87" y1="854.27" x2="1130.87" y2="890.62"/>
<line x1="1125.15" y1="816.62" x2="1136.59" y2="816.62"/>
<line x1="1125.15" y1="890.62" x2="1136.59" y2="890.62"/>
<rect x="1119.43" y="826.79" width="22.87" height="27.48" fill="#7db1c7" stroke-linejoin="miter"/>
<line x1="1119.43" y1="832.63" x2="1142.31" y2="832.63" stroke-linecap="butt"/>
<line x1="1154.21" y1="804.72" x2="1154.21" y2="812.73"/>
<line x1="1154.21" y1="835.88" x2="1154.21" y2="868.55"/>
<line x1="1148.49" y1="804.72" x2="1159.93" y2="804.72"/>
<line x1="1148.49" y1="868.55" x2="1159.93" y2="868.55"/>
<rect x="1142.77" y="812.73" width="22.87" height="23.15" fill="#4576a7" stroke-linejoin="miter"/>
<line x1="1142.77" y1="819.87" x2="1165.65" y2="819.87" stroke-linecap="butt"/>
<line x1="1195.06" y1="765.94" x2="1195.06" y2="766.06"/>
<line x1="1195.06" y1="766.66" x2="1195.06" y2="768.92"/>
<line x1="1189.34" y1="765.94" x2="1200.77" y2="765.94"/>
<line x1="1189.34" y1="768.92" x2="1200.77" y2="768.92"/>
<rect x="1183.62" y="766.06" width="22.87" height="0.59" fill="#cbdcea" stroke-linejoin="miter"/>
<line x1="1183.62" y1="766.36" x2="1206.49" y2="766.36" stroke-linecap="butt"/>
<line x1="1218.4" y1="770.7" x2="1218.4" y2="777.96"/>
<line x1="1218.4" y1="803.24" x2="1218.4" y2="839.23"/>
<line x1="1212.68" y1="770.7" x2="1224.12" y2="770.7"/>
<line x1="1212.68" y1="839.23" x2="1224.12" y2="839.23"/>
<rect x="1206.96" y="777.96" width="22.87" height="25.28" fill="#7db1c7" stroke-linejoin="miter"/>
<line x1="1206.96" y1="785.1" x2="1229.83" y2="785.1" stroke-linecap="butt"/>
<line x1="1241.74" y1="761.24" x2="1241.74" y2="761.42"/>
<line x1="1241.74" y1="761.78" x2="1241.74" y2="761.96"/>
<line x1="1236.02" y1="761.24" x2="1247.46" y2="761.24"/>
<line x1="1236.02" y1="761.96" x2="1247.46" y2="761.96"/>
<rect x="1230.3" y="761.42" width="22.87" height="0.36" fill="#4576a7" stroke-linejoin="miter"/>
<line x1="1230.3" y1="761.6" x2="1253.18" y2="761.6" stroke-linecap="butt"/>
<line x1="1282.58" y1="775.3" x2="1282.58" y2="813.38"/>
<line x1="1282.58" y1="881.31" x2="1282.58" y2="978.24"/>
<line x1="1276.87" y1="775.3" x2="1288.3" y2="775.3"/>
<line x1="1276.87" y1="978.24" x2="1288.3" y2="978.24"/>
<rect x="1271.15" y="813.38" width="22.87" height="67.94" fill="#cbdcea" stroke-linejoin="miter"/>
<line x1="1271.15" y1="843.67" x2="1294.02" y2="843.67" stroke-linecap="butt"/>
<line x1="1305.92" y1="776.16" x2="1305.92" y2="812.29"/>
<line x1="1305.92" y1="899.27" x2="1305.92" y2="1029.52"/>
<line x1="1300.21" y1="776.16" x2="1311.64" y2="776.16"/>
<line x1="1300.21" y1="1029.52" x2="1311.64" y2="1029.52"/>
<rect x="1294.49" y="812.29" width="22.87" height="86.98" fill="#7db1c7" stroke-linejoin="miter"/>
<line x1="1294.49" y1="843.67" x2="1317.36" y2="843.67" stroke-linecap="butt"/>
<line x1="1329.27" y1="771.19" x2="1329.27" y2="795.42"/>
<line x1="1329.27" y1="848.43" x2="1329.27" y2="921.99"/>
<line x1="1323.55" y1="771.19" x2="1334.98" y2="771.19"/>
<line x1="1323.55" y1="921.99" x2="1334.98" y2="921.99"/>
<rect x="1317.83" y="795.42" width="22.87" height="53.01" fill="#4576a7" stroke-linejoin="miter"/>
<line x1="1317.83" y1="817.05" x2="1340.7" y2="817.05" stroke-linecap="butt"/>
<line x1="1370.11" y1="832.2" x2="1370.11" y2="895.59"/>
<line x1="1370.11" y1="1003.77" x2="1370.11" y2="1166.05"/>
<line x1="1364.39" y1="832.2" x2="1375.83" y2="832.2"/>
<line x1="1364.39" y1="1166.05" x2="1375.83" y2="1166.05"/>
<rect x="1358.67" y="895.59" width="22.87" height="108.18" fill="#cbdcea" stroke-linejoin="miter"/>
<line x1="1358.67" y1="938.87" x2="1381.55" y2="938.87" stroke-linecap="butt"/>
<line x1="1393.45" y1="819.22" x2="1393.45" y2="893.43"/>
<line x1="1393.45" y1="1030.17" x2="1393.45" y2="1234.2"/>
<line x1="1387.73" y1="819.22" x2="1399.17" y2="819.22"/>
<line x1="1387.73" y1="1234.2" x2="1399.17" y2="1234.2"/>
<rect x="1382.02" y="893.43" width="22.87" height="136.74" fill="#7db1c7" stroke-linejoin="miter"/>
<line x1="1382.02" y1="941.46" x2="1404.89" y2="941.46" stroke-linecap="butt"/>
<line x1="1416.79" y1="798.01" x2="1416.79" y2="836.96"/>
<line x1="1416.79" y1="902.52" x2="1416.79" y2="998.15"/>
<line x1="1411.08" y1="798.01" x2="1422.51" y2="798.01"/>
<line x1="1411.08" y1="998.15" x2="1422.51" y2="998.15"/>
<rect x="1405.36" y="836.96" width="22.87" height="65.56" fill="#4576a7" stroke-linejoin="miter"/>
<line x1="1405.36" y1="860.76" x2="1428.23" y2="860.76" stroke-linecap="butt"/>
<line x1="1457.64" y1="782.54" x2="1457.64" y2="791.23"/>
<line x1="1457.64" y1="822.18" x2="1457.64" y2="861.81"/>
<line x1="1451.92" y1="782.54" x2="1463.36" y2="782.54"/>
<line x1="1451.92" y1="861.81" x2="1463.36" y2="861.81"/>
<rect x="1446.2" y="791.23" width="22.87" height="30.94" fill="#cbdcea" stroke-linejoin="miter"/>
<line x1="1446.2" y1="802.19" x2="1469.08" y2="802.19" stroke-linecap="butt"/>
<line x1="1480.98" y1="781.33" x2="1480.98" y2="789.67"/>
<line x1="1480.98" y1="812.09" x2="1480.98" y2="840.77"/>
<line x1="1475.26" y1="781.33" x2="1486.7" y2="781.33"/>
<line x1="1475.26" y1="840.77" x2="1486.7" y2="840.77"/>
<rect x="1469.54" y="789.67" width="22.87" height="22.42" fill="#7db1c7" stroke-linejoin="miter"/>
<line x1="1469.54" y1="796.1" x2="1492.42" y2="796.1" stroke-linecap="butt"/>
<line x1="1504.32" y1="779.07" x2="1504.32" y2="783.41"/>
<line x1="1504.32" y1="793.15" x2="1504.32" y2="804.79"/>
<line x1="1498.6" y1="779.07" x2="1510.04" y2="779.07"/>
<line x1="1498.6" y1="804.79" x2="1510.04" y2="804.79"/>
<rect x="1492.88" y="783.41" width="22.87" height="9.73" fill="#4576a7" stroke-linejoin="miter"/>
<line x1="1492.88" y1="788.63" x2="1515.76" y2="788.63" stroke-linecap="butt"/>
<line x1="1545.17" y1="775.59" x2="1545.17" y2="789.67"/>
<line x1="1545.17" y1="811.4" x2="1545.17" y2="840.77"/>
<line x1="1539.45" y1="775.59" x2="1550.89" y2="775.59"/>
<line x1="1539.45" y1="840.77" x2="1550.89" y2="840.77"/>
<rect x="1533.73" y="789.67" width="22.87" height="21.73" fill="#cbdcea" stroke-linejoin="miter"/>
<line x1="1533.73" y1="796.1" x2="1556.6" y2="796.1" stroke-linecap="butt"/>
<line x1="1568.51" y1="774.37" x2="1568.51" y2="787.76"/>
<line x1="1568.51" y1="812.27" x2="1568.51" y2="847.03"/>
<line x1="1562.79" y1="774.37" x2="1574.23" y2="774.37"/>
<line x1="1562.79" y1="847.03" x2="1574.23" y2="847.03"/>
<rect x="1557.07" y="787.76" width="22.87" height="24.51" fill="#7db1c7" stroke-linejoin="miter"/>
<line x1="1557.07" y1="792.62" x2="1579.95" y2="792.62" stroke-linecap="butt"/>
<line x1="1591.85" y1="771.42" x2="1591.85" y2="779.59"/>
<line x1="1591.85" y1="790.02" x2="1591.85" y2="805.66"/>
<line x1="1586.13" y1="771.42" x2="1597.57" y2="771.42"/>
<line x1="1586.13" y1="805.66" x2="1597.57" y2="805.66"/>
<rect x="1580.41" y="779.59" width="22.87" height="10.43" fill="#4576a7" stroke-linejoin="miter"/>
<line x1="1580.41" y1="783.59" x2="1603.29" y2="783.59" stroke-linecap="butt"/>
<line x1="1632.7" y1="774.89" x2="1632.7" y2="782.54"/>
<line x1="1632.7" y1="796.45" x2="1632.7" y2="806.88"/>
<line x1="1626.98" y1="774.89" x2="1638.41" y2="774.89"/>
<line x1="1626.98" y1="806.88" x2="1638.41" y2="806.88"/>
<rect x="1621.26" y="782.54" width="22.87" height="13.91" fill="#cbdcea" stroke-linejoin="miter"/>
<line x1="1621.26" y1="786.54" x2="1644.13" y2="786.54" stroke-linecap="butt"/>
<line x1="1656.04" y1="775.59" x2="1656.04" y2="782.19"/>
<line x1="1656.04" y1="798.19" x2="1656.04" y2="818.35"/>
<line x1="1650.32" y1="775.59" x2="1661.75" y2="775.59"/>
<line x1="1650.32" y1="818.35" x2="1661.75" y2="818.35"/>
<rect x="1644.6" y="782.19" width="22.87" height="15.99" fill="#7db1c7" stroke-linejoin="miter"/>
<line x1="1644.6" y1="786.54" x2="1667.47" y2="786.54" stroke-linecap="butt"/>
<line x1="1679.38" y1="771.24" x2="1679.38" y2="775.24"/>
<line x1="1679.38" y1="783.59" x2="1679.38" y2="794.71"/>
<line x1="1673.66" y1="771.24" x2="1685.1" y2="771.24"/>
<line x1="1673.66" y1="794.71" x2="1685.1" y2="794.71"/>
<rect x="1667.94" y="775.24" width="22.87" height="8.34" fill="#4576a7" stroke-linejoin="miter"/>
<line x1="1667.94" y1="779.24" x2="1690.81" y2="779.24" stroke-linecap="butt"/>
</g>
<rect x="124.3" y="736.9" width="1575.5" height="520.8" fill="none" stroke="#000" stroke-width="1.9"/>
<line x1="116.8" y1="761" x2="124.3" y2="761" stroke="#000" stroke-width="1.9"/>
<text x="107.6" y="771" font-size="28.3" text-anchor="end">1.0</text>
<line x1="116.8" y1="831.67" x2="124.3" y2="831.67" stroke="#000" stroke-width="1.9"/>
<text x="107.6" y="841.67" font-size="28.3" text-anchor="end">0.9</text>
<line x1="116.8" y1="902.34" x2="124.3" y2="902.34" stroke="#000" stroke-width="1.9"/>
<text x="107.6" y="912.34" font-size="28.3" text-anchor="end">0.8</text>
<line x1="116.8" y1="973.01" x2="124.3" y2="973.01" stroke="#000" stroke-width="1.9"/>
<text x="107.6" y="983.01" font-size="28.3" text-anchor="end">0.7</text>
<line x1="116.8" y1="1043.68" x2="124.3" y2="1043.68" stroke="#000" stroke-width="1.9"/>
<text x="107.6" y="1053.68" font-size="28.3" text-anchor="end">0.6</text>
<line x1="116.8" y1="1114.35" x2="124.3" y2="1114.35" stroke="#000" stroke-width="1.9"/>
<text x="107.6" y="1124.35" font-size="28.3" text-anchor="end">0.5</text>
<line x1="116.8" y1="1185.02" x2="124.3" y2="1185.02" stroke="#000" stroke-width="1.9"/>
<text x="107.6" y="1195.02" font-size="28.3" text-anchor="end">0.4</text>
<line x1="116.8" y1="1255.69" x2="124.3" y2="1255.69" stroke="#000" stroke-width="1.9"/>
<text x="107.6" y="1265.69" font-size="28.3" text-anchor="end">0.3</text>
<line x1="168.06" y1="1257.7" x2="168.06" y2="1265.2" stroke="#000" stroke-width="1.9"/>
<text transform="translate(168.06,1292.21) rotate(-20)" x="0" y="7.36" font-size="28.3" text-anchor="middle">T1</text>
<line x1="255.59" y1="1257.7" x2="255.59" y2="1265.2" stroke="#000" stroke-width="1.9"/>
<text transform="translate(255.59,1292.21) rotate(-20)" x="0" y="7.36" font-size="28.3" text-anchor="middle">T2</text>
<line x1="343.12" y1="1257.7" x2="343.12" y2="1265.2" stroke="#000" stroke-width="1.9"/>
<text transform="translate(343.12,1292.21) rotate(-20)" x="0" y="7.36" font-size="28.3" text-anchor="middle">T3</text>
<line x1="430.65" y1="1257.7" x2="430.65" y2="1265.2" stroke="#000" stroke-width="1.9"/>
<text transform="translate(430.65,1292.21) rotate(-20)" x="0" y="7.36" font-size="28.3" text-anchor="middle">T4</text>
<line x1="518.17" y1="1257.7" x2="518.17" y2="1265.2" stroke="#000" stroke-width="1.9"/>
<text transform="translate(518.17,1292.21) rotate(-20)" x="0" y="7.36" font-size="28.3" text-anchor="middle">T5</text>
<line x1="605.7" y1="1257.7" x2="605.7" y2="1265.2" stroke="#000" stroke-width="1.9"/>
<text transform="translate(605.7,1292.21) rotate(-20)" x="0" y="7.36" font-size="28.3" text-anchor="middle">T6</text>
<line x1="693.23" y1="1257.7" x2="693.23" y2="1265.2" stroke="#000" stroke-width="1.9"/>
<text transform="translate(693.23,1292.21) rotate(-20)" x="0" y="7.36" font-size="28.3" text-anchor="middle">T7</text>
<line x1="780.76" y1="1257.7" x2="780.76" y2="1265.2" stroke="#000" stroke-width="1.9"/>
<text transform="translate(780.76,1292.21) rotate(-20)" x="0" y="7.36" font-size="28.3" text-anchor="middle">T8</text>
<line x1="868.29" y1="1257.7" x2="868.29" y2="1265.2" stroke="#000" stroke-width="1.9"/>
<text transform="translate(868.29,1292.21) rotate(-20)" x="0" y="7.36" font-size="28.3" text-anchor="middle">T9</text>
<line x1="955.81" y1="1257.7" x2="955.81" y2="1265.2" stroke="#000" stroke-width="1.9"/>
<text transform="translate(955.81,1294.9) rotate(-20)" x="0" y="7.36" font-size="28.3" text-anchor="middle">T10</text>
<line x1="1043.34" y1="1257.7" x2="1043.34" y2="1265.2" stroke="#000" stroke-width="1.9"/>
<text transform="translate(1043.34,1294.9) rotate(-20)" x="0" y="7.36" font-size="28.3" text-anchor="middle">T11</text>
<line x1="1130.87" y1="1257.7" x2="1130.87" y2="1265.2" stroke="#000" stroke-width="1.9"/>
<text transform="translate(1130.87,1294.9) rotate(-20)" x="0" y="7.36" font-size="28.3" text-anchor="middle">T12</text>
<line x1="1218.4" y1="1257.7" x2="1218.4" y2="1265.2" stroke="#000" stroke-width="1.9"/>
<text transform="translate(1218.4,1294.9) rotate(-20)" x="0" y="7.36" font-size="28.3" text-anchor="middle">T13</text>
<line x1="1305.92" y1="1257.7" x2="1305.92" y2="1265.2" stroke="#000" stroke-width="1.9"/>
<text transform="translate(1305.92,1294.9) rotate(-20)" x="0" y="7.36" font-size="28.3" text-anchor="middle">T14</text>
<line x1="1393.45" y1="1257.7" x2="1393.45" y2="1265.2" stroke="#000" stroke-width="1.9"/>
<text transform="translate(1393.45,1294.9) rotate(-20)" x="0" y="7.36" font-size="28.3" text-anchor="middle">T15</text>
<line x1="1480.98" y1="1257.7" x2="1480.98" y2="1265.2" stroke="#000" stroke-width="1.9"/>
<text transform="translate(1480.98,1294.9) rotate(-20)" x="0" y="7.36" font-size="28.3" text-anchor="middle">T16</text>
<line x1="1568.51" y1="1257.7" x2="1568.51" y2="1265.2" stroke="#000" stroke-width="1.9"/>
<text transform="translate(1568.51,1294.9) rotate(-20)" x="0" y="7.36" font-size="28.3" text-anchor="middle">T17</text>
<line x1="1656.04" y1="1257.7" x2="1656.04" y2="1265.2" stroke="#000" stroke-width="1.9"/>
<text transform="translate(1656.04,1294.9) rotate(-20)" x="0" y="7.36" font-size="28.3" text-anchor="middle">T18</text>
<text x="911.55" y="1345.2" font-size="28.3" text-anchor="middle">Task</text>
<text transform="translate(53.5,997.3) rotate(-90)" x="0" y="0" font-size="28.3" text-anchor="middle">Dice</text>
<rect x="1422.7" y="1115.1" width="263.4" height="127.8" rx="4" ry="4" fill="#fff" fill-opacity="0.8" stroke="#cccccc" stroke-width="1.9"/>
<rect x="1434.1" y="1126.8" width="55.8" height="19.4" fill="#cbdcea" stroke="#33363a" stroke-width="2"/>
<text x="1512" y="1146.5" font-size="28.3">MedSAM</text>
<rect x="1434.1" y="1167.05" width="55.8" height="19.4" fill="#7db1c7" stroke="#33363a" stroke-width="2"/>
<text x="1512" y="1186.75" font-size="28.3">SAM-Med2D</text>
<rect x="1434.1" y="1207.3" width="55.8" height="19.4" fill="#4576a7" stroke="#33363a" stroke-width="2"/>
<text x="1512" y="1227" font-size="28.3">Ours</text>
<text x="-1.7" y="1387" font-size="50" font-weight="bold">c</text>
<text x="912.05" y="1406.1" font-size="28.3" text-anchor="middle">Performance on 50% fine-tuning data</text>
<g stroke="#33363a" stroke-width="2" stroke-linecap="square">
<line x1="144.72" y1="1531.94" x2="144.72" y2="1553.14"/>
<line x1="144.72" y1="1589.28" x2="144.72" y2="1642.93"/>
<line x1="139" y1="1531.94" x2="150.44" y2="1531.94"/>
<line x1="139" y1="1642.93" x2="150.44" y2="1642.93"/>
<rect x="133.29" y="1553.14" width="22.87" height="36.13" fill="#cbdcea" stroke-linejoin="miter"/>
<line x1="133.29" y1="1565.04" x2="156.16" y2="1565.04" stroke-linecap="butt"/>
<line x1="168.06" y1="1507.06" x2="168.06" y2="1524.37"/>
<line x1="168.06" y1="1559.2" x2="168.06" y2="1610.91"/>
<line x1="162.35" y1="1507.06" x2="173.78" y2="1507.06"/>
<line x1="162.35" y1="1610.91" x2="173.78" y2="1610.91"/>
<rect x="156.63" y="1524.37" width="22.87" height="34.83" fill="#7db1c7" stroke-linejoin="miter"/>
<line x1="156.63" y1="1537.35" x2="179.5" y2="1537.35" stroke-linecap="butt"/>
<line x1="191.4" y1="1481.31" x2="191.4" y2="1495.59"/>
<line x1="191.4" y1="1513.55" x2="191.4" y2="1533.67"/>
<line x1="185.69" y1="1481.31" x2="197.12" y2="1481.31"/>
<line x1="185.69" y1="1533.67" x2="197.12" y2="1533.67"/>
<rect x="179.97" y="1495.59" width="22.87" height="17.96" fill="#4576a7" stroke-linejoin="miter"/>
<line x1="179.97" y1="1503.38" x2="202.84" y2="1503.38" stroke-linecap="butt"/>
<line x1="232.25" y1="1470.49" x2="232.25" y2="1512.68"/>
<line x1="232.25" y1="1594.69" x2="232.25" y2="1717.15"/>
<line x1="226.53" y1="1470.49" x2="237.97" y2="1470.49"/>
<line x1="226.53" y1="1717.15" x2="237.97" y2="1717.15"/>
<rect x="220.81" y="1512.68" width="22.87" height="82" fill="#cbdcea" stroke-linejoin="miter"/>
<line x1="220.81" y1="1545.14" x2="243.69" y2="1545.14" stroke-linecap="butt"/>
<line x1="255.59" y1="1468.11" x2="255.59" y2="1521.77"/>
<line x1="255.59" y1="1626.27" x2="255.59" y2="1782.06"/>
<line x1="249.87" y1="1468.11" x2="261.31" y2="1468.11"/>
<line x1="249.87" y1="1782.06" x2="261.31" y2="1782.06"/>
<rect x="244.15" y="1521.77" width="22.87" height="104.5" fill="#7db1c7" stroke-linejoin="miter"/>
<line x1="244.15" y1="1559.2" x2="267.03" y2="1559.2" stroke-linecap="butt"/>
<line x1="278.93" y1="1456.43" x2="278.93" y2="1483.91"/>
<line x1="278.93" y1="1541.68" x2="278.93" y2="1624.11"/>
<line x1="273.21" y1="1456.43" x2="284.65" y2="1456.43"/>
<line x1="273.21" y1="1624.11" x2="284.65" y2="1624.11"/>
<rect x="267.5" y="1483.91" width="22.87" height="57.77" fill="#4576a7" stroke-linejoin="miter"/>
<line x1="267.5" y1="1502.73" x2="290.37" y2="1502.73" stroke-linecap="butt"/>
<line x1="319.78" y1="1457.95" x2="319.78" y2="1484.56"/>
<line x1="319.78" y1="1511.6" x2="319.78" y2="1545.14"/>
<line x1="314.06" y1="1457.95" x2="325.5" y2="1457.95"/>
<line x1="314.06" y1="1545.14" x2="325.5" y2="1545.14"/>
<rect x="308.34" y="1484.56" width="22.87" height="27.05" fill="#cbdcea" stroke-linejoin="miter"/>
<line x1="308.34" y1="1495.38" x2="331.22" y2="1495.38" stroke-linecap="butt"/>
<line x1="343.12" y1="1463.79" x2="343.12" y2="1490.4"/>
<line x1="343.12" y1="1530.43" x2="343.12" y2="1587.33"/>
<line x1="337.4" y1="1463.79" x2="348.84" y2="1463.79"/>
<line x1="337.4" y1="1587.33" x2="348.84" y2="1587.33"/>
<rect x="331.68" y="1490.4" width="22.87" height="40.03" fill="#7db1c7" stroke-linejoin="miter"/>
<line x1="331.68" y1="1509.44" x2="354.56" y2="1509.44" stroke-linecap="butt"/>
<line x1="366.46" y1="1455.35" x2="366.46" y2="1475.25"/>
<line x1="366.46" y1="1500.57" x2="366.46" y2="1533.67"/>
<line x1="360.74" y1="1455.35" x2="372.18" y2="1455.35"/>
<line x1="360.74" y1="1533.67" x2="372.18" y2="1533.67"/>
<rect x="355.02" y="1475.25" width="22.87" height="25.31" fill="#4576a7" stroke-linejoin="miter"/>
<line x1="355.02" y1="1486.72" x2="377.9" y2="1486.72" stroke-linecap="butt"/>
<line x1="407.31" y1="1460.76" x2="407.31" y2="1483.48"/>
<line x1="407.31" y1="1535.4" x2="407.31" y2="1591.66"/>
<line x1="401.59" y1="1460.76" x2="413.02" y2="1460.76"/>
<line x1="401.59" y1="1591.66" x2="413.02" y2="1591.66"/>
<rect x="395.87" y="1483.48" width="22.87" height="51.93" fill="#cbdcea" stroke-linejoin="miter"/>
<line x1="395.87" y1="1505.54" x2="418.74" y2="1505.54" stroke-linecap="butt"/>
<line x1="430.65" y1="1460.11" x2="430.65" y2="1490.4"/>
<line x1="430.65" y1="1534.32" x2="430.65" y2="1586.25"/>
<line x1="424.93" y1="1460.11" x2="436.37" y2="1460.11"/>
<line x1="424.93" y1="1586.25" x2="436.37" y2="1586.25"/>
<rect x="419.21" y="1490.4" width="22.87" height="43.92" fill="#7db1c7" stroke-linejoin="miter"/>
<line x1="419.21" y1="1511.39" x2="442.08" y2="1511.39" stroke-linecap="butt"/>
<line x1="453.99" y1="1455.13" x2="453.99" y2="1472.01"/>
<line x1="453.99" y1="1500.14" x2="453.99" y2="1540.6"/>
<line x1="448.27" y1="1455.13" x2="459.71" y2="1455.13"/>
<line x1="448.27" y1="1540.6" x2="459.71" y2="1540.6"/>
<rect x="442.55" y="1472.01" width="22.87" height="28.13" fill="#4576a7" stroke-linejoin="miter"/>
<line x1="442.55" y1="1484.34" x2="465.43" y2="1484.34" stroke-linecap="butt"/>
<line x1="494.83" y1="1446.85" x2="494.83" y2="1453.63"/>
<line x1="494.83" y1="1469.33" x2="494.83" y2="1492.65"/>
<line x1="489.12" y1="1446.85" x2="500.55" y2="1446.85"/>
<line x1="489.12" y1="1492.65" x2="500.55" y2="1492.65"/>
<rect x="483.4" y="1453.63" width="22.87" height="15.7" fill="#cbdcea" stroke-linejoin="miter"/>
<line x1="483.4" y1="1458.39" x2="506.27" y2="1458.39" stroke-linecap="butt"/>
<line x1="518.17" y1="1449.23" x2="518.17" y2="1454.82"/>
<line x1="518.17" y1="1466.12" x2="518.17" y2="1483.02"/>
<line x1="512.46" y1="1449.23" x2="523.89" y2="1449.23"/>
<line x1="512.46" y1="1483.02" x2="523.89" y2="1483.02"/>
<rect x="506.74" y="1454.82" width="22.87" height="11.3" fill="#7db1c7" stroke-linejoin="miter"/>
<line x1="506.74" y1="1458.75" x2="529.61" y2="1458.75" stroke-linecap="butt"/>
<line x1="541.52" y1="1447.09" x2="541.52" y2="1452.2"/>
<line x1="541.52" y1="1459.58" x2="541.52" y2="1470.64"/>
<line x1="535.8" y1="1447.09" x2="547.23" y2="1447.09"/>
<line x1="535.8" y1="1470.64" x2="547.23" y2="1470.64"/>
<rect x="530.08" y="1452.2" width="22.87" height="7.38" fill="#4576a7" stroke-linejoin="miter"/>
<line x1="530.08" y1="1455.77" x2="552.95" y2="1455.77" stroke-linecap="butt"/>
<line x1="582.36" y1="1446.25" x2="582.36" y2="1451.85"/>
<line x1="582.36" y1="1468.5" x2="582.36" y2="1492.89"/>
<line x1="576.64" y1="1446.25" x2="588.08" y2="1446.25"/>
<line x1="576.64" y1="1492.89" x2="588.08" y2="1492.89"/>
<rect x="570.92" y="1451.85" width="22.87" height="16.66" fill="#cbdcea" stroke-linejoin="miter"/>
<line x1="570.92" y1="1456.37" x2="593.8" y2="1456.37" stroke-linecap="butt"/>
<line x1="605.7" y1="1448.04" x2="605.7" y2="1453.63"/>
<line x1="605.7" y1="1477.66" x2="605.7" y2="1512.52"/>
<line x1="599.98" y1="1448.04" x2="611.42" y2="1448.04"/>
<line x1="599.98" y1="1512.52" x2="611.42" y2="1512.52"/>
<rect x="594.27" y="1453.63" width="22.87" height="24.03" fill="#7db1c7" stroke-linejoin="miter"/>
<line x1="594.27" y1="1459.94" x2="617.14" y2="1459.94" stroke-linecap="butt"/>
<line x1="629.04" y1="1445.9" x2="629.04" y2="1449.7"/>
<line x1="629.04" y1="1461.72" x2="629.04" y2="1479.21"/>
<line x1="623.33" y1="1445.9" x2="634.76" y2="1445.9"/>
<line x1="623.33" y1="1479.21" x2="634.76" y2="1479.21"/>
<rect x="617.61" y="1449.7" width="22.87" height="12.02" fill="#4576a7" stroke-linejoin="miter"/>
<line x1="617.61" y1="1453.04" x2="640.48" y2="1453.04" stroke-linecap="butt"/>
<line x1="669.89" y1="1453.19" x2="669.89" y2="1460.76"/>
<line x1="669.89" y1="1481.75" x2="669.89" y2="1512.68"/>
<line x1="664.17" y1="1453.19" x2="675.61" y2="1453.19"/>
<line x1="664.17" y1="1512.68" x2="675.61" y2="1512.68"/>
<rect x="658.45" y="1460.76" width="22.87" height="20.99" fill="#cbdcea" stroke-linejoin="miter"/>
<line x1="658.45" y1="1467.03" x2="681.33" y2="1467.03" stroke-linecap="butt"/>
<line x1="693.23" y1="1453.62" x2="693.23" y2="1465.52"/>
<line x1="693.23" y1="1493.21" x2="693.23" y2="1533.67"/>
<line x1="687.51" y1="1453.62" x2="698.95" y2="1453.62"/>
<line x1="687.51" y1="1533.67" x2="698.95" y2="1533.67"/>
<rect x="681.79" y="1465.52" width="22.87" height="27.69" fill="#7db1c7" stroke-linejoin="miter"/>
<line x1="681.79" y1="1473.74" x2="704.67" y2="1473.74" stroke-linecap="butt"/>
<line x1="716.57" y1="1449.29" x2="716.57" y2="1453.62"/>
<line x1="716.57" y1="1468.33" x2="716.57" y2="1489.75"/>
<line x1="710.85" y1="1449.29" x2="722.29" y2="1449.29"/>
<line x1="710.85" y1="1489.75" x2="722.29" y2="1489.75"/>
<rect x="705.13" y="1453.62" width="22.87" height="14.71" fill="#4576a7" stroke-linejoin="miter"/>
<line x1="705.13" y1="1457.51" x2="728.01" y2="1457.51" stroke-linecap="butt"/>
<line x1="757.42" y1="1473.09" x2="757.42" y2="1529.78"/>
<line x1="757.42" y1="1586.68" x2="757.42" y2="1669.98"/>
<line x1="751.7" y1="1473.09" x2="763.14" y2="1473.09"/>
<line x1="751.7" y1="1669.98" x2="763.14" y2="1669.98"/>
<rect x="745.98" y="1529.78" width="22.87" height="56.9" fill="#cbdcea" stroke-linejoin="miter"/>
<line x1="745.98" y1="1553.79" x2="768.85" y2="1553.79" stroke-linecap="butt"/>
<line x1="780.76" y1="1479.58" x2="780.76" y2="1565.69"/>
<line x1="780.76" y1="1664.57" x2="780.76" y2="1809.1"/>
<line x1="775.04" y1="1479.58" x2="786.48" y2="1479.58"/>
<line x1="775.04" y1="1809.1" x2="786.48" y2="1809.1"/>
<rect x="769.32" y="1565.69" width="22.87" height="98.88" fill="#7db1c7" stroke-linejoin="miter"/>
<line x1="769.32" y1="1612.21" x2="792.2" y2="1612.21" stroke-linecap="butt"/>
<line x1="804.1" y1="1466.6" x2="804.1" y2="1513.77"/>
<line x1="804.1" y1="1566.78" x2="804.1" y2="1644.67"/>
<line x1="798.38" y1="1466.6" x2="809.82" y2="1466.6"/>
<line x1="798.38" y1="1644.67" x2="809.82" y2="1644.67"/>
<rect x="792.66" y="1513.77" width="22.87" height="53.01" fill="#4576a7" stroke-linejoin="miter"/>
<line x1="792.66" y1="1538.65" x2="815.54" y2="1538.65" stroke-linecap="butt"/>
<line x1="844.95" y1="1462.71" x2="844.95" y2="1494.73"/>
<line x1="844.95" y1="1565.69" x2="844.95" y2="1671.71"/>
<line x1="839.23" y1="1462.71" x2="850.66" y2="1462.71"/>
<line x1="839.23" y1="1671.71" x2="850.66" y2="1671.71"/>
<rect x="833.51" y="1494.73" width="22.87" height="70.97" fill="#cbdcea" stroke-linejoin="miter"/>
<line x1="833.51" y1="1526.53" x2="856.38" y2="1526.53" stroke-linecap="butt"/>
<line x1="868.29" y1="1455.78" x2="868.29" y2="1496.24"/>
<line x1="868.29" y1="1576.94" x2="868.29" y2="1689.89"/>
<line x1="862.57" y1="1455.78" x2="874" y2="1455.78"/>
<line x1="862.57" y1="1689.89" x2="874" y2="1689.89"/>
<rect x="856.85" y="1496.24" width="22.87" height="80.7" fill="#7db1c7" stroke-linejoin="miter"/>
<line x1="856.85" y1="1524.37" x2="879.72" y2="1524.37" stroke-linecap="butt"/>
<line x1="891.63" y1="1456.21" x2="891.63" y2="1470.93"/>
<line x1="891.63" y1="1508.36" x2="891.63" y2="1561.8"/>
<line x1="885.91" y1="1456.21" x2="897.35" y2="1456.21"/>
<line x1="885.91" y1="1561.8" x2="897.35" y2="1561.8"/>
<rect x="880.19" y="1470.93" width="22.87" height="37.43" fill="#4576a7" stroke-linejoin="miter"/>
<line x1="880.19" y1="1484.56" x2="903.06" y2="1484.56" stroke-linecap="butt"/>
<line x1="932.47" y1="1485.64" x2="932.47" y2="1549.25"/>
<line x1="932.47" y1="1660.68" x2="932.47" y2="1826.84"/>
<line x1="926.75" y1="1485.64" x2="938.19" y2="1485.64"/>
<line x1="926.75" y1="1826.84" x2="938.19" y2="1826.84"/>
<rect x="921.04" y="1549.25" width="22.87" height="111.43" fill="#cbdcea" stroke-linejoin="miter"/>
<line x1="921.04" y1="1591.66" x2="943.91" y2="1591.66" stroke-linecap="butt"/>
<line x1="955.81" y1="1470.93" x2="955.81" y2="1538.43"/>
<line x1="955.81" y1="1670.63" x2="955.81" y2="1855.4"/>
<line x1="950.1" y1="1470.93" x2="961.53" y2="1470.93"/>
<line x1="950.1" y1="1855.4" x2="961.53" y2="1855.4"/>
<rect x="944.38" y="1538.43" width="22.87" height="132.2" fill="#7db1c7" stroke-linejoin="miter"/>
<line x1="944.38" y1="1589.28" x2="967.25" y2="1589.28" stroke-linecap="butt"/>
<line x1="979.15" y1="1463.79" x2="979.15" y2="1514.2"/>
<line x1="979.15" y1="1599.23" x2="979.15" y2="1725.15"/>
<line x1="973.44" y1="1463.79" x2="984.87" y2="1463.79"/>
<line x1="973.44" y1="1725.15" x2="984.87" y2="1725.15"/>
<rect x="967.72" y="1514.2" width="22.87" height="85.03" fill="#4576a7" stroke-linejoin="miter"/>
<line x1="967.72" y1="1546.65" x2="990.59" y2="1546.65" stroke-linecap="butt"/>
<line x1="1020" y1="1451.89" x2="1020" y2="1469.41"/>
<line x1="1020" y1="1488.24" x2="1020" y2="1513.55"/>
<line x1="1014.28" y1="1451.89" x2="1025.72" y2="1451.89"/>
<line x1="1014.28" y1="1513.55" x2="1025.72" y2="1513.55"/>
<rect x="1008.56" y="1469.41" width="22.87" height="18.82" fill="#cbdcea" stroke-linejoin="miter"/>
<line x1="1008.56" y1="1483.48" x2="1031.44" y2="1483.48" stroke-linecap="butt"/>
<line x1="1043.34" y1="1455.35" x2="1043.34" y2="1465.95"/>
<line x1="1043.34" y1="1478.07" x2="1043.34" y2="1495.38"/>
<line x1="1037.62" y1="1455.35" x2="1049.06" y2="1455.35"/>
<line x1="1037.62" y1="1495.38" x2="1049.06" y2="1495.38"/>
<rect x="1031.9" y="1465.95" width="22.87" height="12.12" fill="#7db1c7" stroke-linejoin="miter"/>
<line x1="1031.9" y1="1471.58" x2="1054.78" y2="1471.58" stroke-linecap="butt"/>
<line x1="1066.68" y1="1451.45" x2="1066.68" y2="1458.38"/>
<line x1="1066.68" y1="1470.49" x2="1066.68" y2="1478.5"/>
<line x1="1060.96" y1="1451.45" x2="1072.4" y2="1451.45"/>
<line x1="1060.96" y1="1478.5" x2="1072.4" y2="1478.5"/>
<rect x="1055.25" y="1458.38" width="22.87" height="12.12" fill="#4576a7" stroke-linejoin="miter"/>
<line x1="1055.25" y1="1464.87" x2="1078.12" y2="1464.87" stroke-linecap="butt"/>
<line x1="1107.53" y1="1505.11" x2="1107.53" y2="1515.93"/>
<line x1="1107.53" y1="1548.38" x2="1107.53" y2="1593.82"/>
<line x1="1101.81" y1="1505.11" x2="1113.25" y2="1505.11"/>
<line x1="1101.81" y1="1593.82" x2="1113.25" y2="1593.82"/>
<rect x="1096.09" y="1515.93" width="22.87" height="32.45" fill="#cbdcea" stroke-linejoin="miter"/>
<line x1="1096.09" y1="1523.94" x2="1118.97" y2="1523.94" stroke-linecap="butt"/>
<line x1="1130.87" y1="1502.3" x2="1130.87" y2="1512.04"/>
<line x1="1130.87" y1="1539.08" x2="1130.87" y2="1577.59"/>
<line x1="1125.15" y1="1502.3" x2="1136.59" y2="1502.3"/>
<line x1="1125.15" y1="1577.59" x2="1136.59" y2="1577.59"/>
<rect x="1119.43" y="1512.04" width="22.87" height="27.05" fill="#7db1c7" stroke-linejoin="miter"/>
<line x1="1119.43" y1="1518.53" x2="1142.31" y2="1518.53" stroke-linecap="butt"/>
<line x1="1154.21" y1="1489.32" x2="1154.21" y2="1496.46"/>
<line x1="1154.21" y1="1520.69" x2="1154.21" y2="1557.04"/>
<line x1="1148.49" y1="1489.32" x2="1159.93" y2="1489.32"/>
<line x1="1148.49" y1="1557.04" x2="1159.93" y2="1557.04"/>
<rect x="1142.77" y="1496.46" width="22.87" height="24.23" fill="#4576a7" stroke-linejoin="miter"/>
<line x1="1142.77" y1="1504.9" x2="1165.65" y2="1504.9" stroke-linecap="butt"/>
<line x1="1195.06" y1="1443" x2="1195.06" y2="1444.19"/>
<line x1="1195.06" y1="1445.38" x2="1195.06" y2="1446.87"/>
<line x1="1189.34" y1="1443" x2="1200.77" y2="1443"/>
<line x1="1189.34" y1="1446.87" x2="1200.77" y2="1446.87"/>
<rect x="1183.62" y="1444.19" width="22.87" height="1.19" fill="#cbdcea" stroke-linejoin="miter"/>
<line x1="1183.62" y1="1444.79" x2="1206.49" y2="1444.79" stroke-linecap="butt"/>
<line x1="1218.4" y1="1451.33" x2="1218.4" y2="1455.79"/>
<line x1="1218.4" y1="1478.4" x2="1218.4" y2="1506.95"/>
<line x1="1212.68" y1="1451.33" x2="1224.12" y2="1451.33"/>
<line x1="1212.68" y1="1506.95" x2="1224.12" y2="1506.95"/>
<rect x="1206.96" y="1455.79" width="22.87" height="22.6" fill="#7db1c7" stroke-linejoin="miter"/>
<line x1="1206.96" y1="1462.04" x2="1229.83" y2="1462.04" stroke-linecap="butt"/>
<line x1="1241.74" y1="1443.06" x2="1241.74" y2="1443.12"/>
<line x1="1241.74" y1="1443.24" x2="1241.74" y2="1443.3"/>
<line x1="1236.02" y1="1443.06" x2="1247.46" y2="1443.06"/>
<line x1="1236.02" y1="1443.3" x2="1247.46" y2="1443.3"/>
<rect x="1230.3" y="1443.12" width="22.87" height="0.12" fill="#4576a7" stroke-linejoin="miter"/>
<line x1="1230.3" y1="1443.18" x2="1253.18" y2="1443.18" stroke-linecap="butt"/>
<line x1="1282.58" y1="1456.43" x2="1282.58" y2="1493.64"/>
<line x1="1282.58" y1="1560.07" x2="1282.58" y2="1654.4"/>
<line x1="1276.87" y1="1456.43" x2="1288.3" y2="1456.43"/>
<line x1="1276.87" y1="1654.4" x2="1288.3" y2="1654.4"/>
<rect x="1271.15" y="1493.64" width="22.87" height="66.42" fill="#cbdcea" stroke-linejoin="miter"/>
<line x1="1271.15" y1="1521.77" x2="1294.02" y2="1521.77" stroke-linecap="butt"/>
<line x1="1305.92" y1="1457.51" x2="1305.92" y2="1494.73"/>
<line x1="1305.92" y1="1576.51" x2="1305.92" y2="1698.54"/>
<line x1="1300.21" y1="1457.51" x2="1311.64" y2="1457.51"/>
<line x1="1300.21" y1="1698.54" x2="1311.64" y2="1698.54"/>
<rect x="1294.49" y="1494.73" width="22.87" height="81.78" fill="#7db1c7" stroke-linejoin="miter"/>
<line x1="1294.49" y1="1526.1" x2="1317.36" y2="1526.1" stroke-linecap="butt"/>
<line x1="1329.27" y1="1451.02" x2="1329.27" y2="1477.42"/>
<line x1="1329.27" y1="1530.43" x2="1329.27" y2="1607.67"/>
<line x1="1323.55" y1="1451.02" x2="1334.98" y2="1451.02"/>
<line x1="1323.55" y1="1607.67" x2="1334.98" y2="1607.67"/>
<rect x="1317.83" y="1477.42" width="22.87" height="53.01" fill="#4576a7" stroke-linejoin="miter"/>
<line x1="1317.83" y1="1498.62" x2="1340.7" y2="1498.62" stroke-linecap="butt"/>
<line x1="1370.11" y1="1506.63" x2="1370.11" y2="1565.48"/>
<line x1="1370.11" y1="1664.14" x2="1370.11" y2="1809.1"/>
<line x1="1364.39" y1="1506.63" x2="1375.83" y2="1506.63"/>
<line x1="1364.39" y1="1809.1" x2="1375.83" y2="1809.1"/>
<rect x="1358.67" y="1565.48" width="22.87" height="98.66" fill="#cbdcea" stroke-linejoin="miter"/>
<line x1="1358.67" y1="1604.42" x2="1381.55" y2="1604.42" stroke-linecap="butt"/>
<line x1="1393.45" y1="1505.11" x2="1393.45" y2="1571.54"/>
<line x1="1393.45" y1="1710.01" x2="1393.45" y2="1916.2"/>
<line x1="1387.73" y1="1505.11" x2="1399.17" y2="1505.11"/>
<line x1="1387.73" y1="1916.2" x2="1399.17" y2="1916.2"/>
<rect x="1382.02" y="1571.54" width="22.87" height="138.47" fill="#7db1c7" stroke-linejoin="miter"/>
<line x1="1382.02" y1="1623.46" x2="1404.89" y2="1623.46" stroke-linecap="butt"/>
<line x1="1416.79" y1="1481.75" x2="1416.79" y2="1519.61"/>
<line x1="1416.79" y1="1586.03" x2="1416.79" y2="1678.63"/>
<line x1="1411.08" y1="1481.75" x2="1422.51" y2="1481.75"/>
<line x1="1411.08" y1="1678.63" x2="1422.51" y2="1678.63"/>
<rect x="1405.36" y="1519.61" width="22.87" height="66.42" fill="#4576a7" stroke-linejoin="miter"/>
<line x1="1405.36" y1="1544.49" x2="1428.23" y2="1544.49" stroke-linecap="butt"/>
<line x1="1457.64" y1="1465.41" x2="1457.64" y2="1474.62"/>
<line x1="1457.64" y1="1501.57" x2="1457.64" y2="1537.72"/>
<line x1="1451.92" y1="1465.41" x2="1463.36" y2="1465.41"/>
<line x1="1451.92" y1="1537.72" x2="1463.36" y2="1537.72"/>
<rect x="1446.2" y="1474.62" width="22.87" height="26.94" fill="#cbdcea" stroke-linejoin="miter"/>
<line x1="1446.2" y1="1485.4" x2="1469.08" y2="1485.4" stroke-linecap="butt"/>
<line x1="1480.98" y1="1461.59" x2="1480.98" y2="1474.1"/>
<line x1="1480.98" y1="1496.01" x2="1480.98" y2="1528.86"/>
<line x1="1475.26" y1="1461.59" x2="1486.7" y2="1461.59"/>
<line x1="1475.26" y1="1528.86" x2="1486.7" y2="1528.86"/>
<rect x="1469.54" y="1474.1" width="22.87" height="21.9" fill="#7db1c7" stroke-linejoin="miter"/>
<line x1="1469.54" y1="1480.71" x2="1492.42" y2="1480.71" stroke-linecap="butt"/>
<line x1="1504.32" y1="1454.63" x2="1504.32" y2="1463.85"/>
<line x1="1504.32" y1="1475.49" x2="1504.32" y2="1490.62"/>
<line x1="1498.6" y1="1454.63" x2="1510.04" y2="1454.63"/>
<line x1="1498.6" y1="1490.62" x2="1510.04" y2="1490.62"/>
<rect x="1492.88" y="1463.85" width="22.87" height="11.65" fill="#4576a7" stroke-linejoin="miter"/>
<line x1="1492.88" y1="1468.89" x2="1515.76" y2="1468.89" stroke-linecap="butt"/>
<line x1="1545.17" y1="1456.37" x2="1545.17" y2="1471.15"/>
<line x1="1545.17" y1="1488.53" x2="1545.17" y2="1514.6"/>
<line x1="1539.45" y1="1456.37" x2="1550.89" y2="1456.37"/>
<line x1="1539.45" y1="1514.6" x2="1550.89" y2="1514.6"/>
<rect x="1533.73" y="1471.15" width="22.87" height="17.38" fill="#cbdcea" stroke-linejoin="miter"/>
<line x1="1533.73" y1="1478.1" x2="1556.6" y2="1478.1" stroke-linecap="butt"/>
<line x1="1568.51" y1="1456.37" x2="1568.51" y2="1468.54"/>
<line x1="1568.51" y1="1486.27" x2="1568.51" y2="1511.65"/>
<line x1="1562.79" y1="1456.37" x2="1574.23" y2="1456.37"/>
<line x1="1562.79" y1="1511.65" x2="1574.23" y2="1511.65"/>
<rect x="1557.07" y="1468.54" width="22.87" height="17.73" fill="#7db1c7" stroke-linejoin="miter"/>
<line x1="1557.07" y1="1474.62" x2="1579.95" y2="1474.62" stroke-linecap="butt"/>
<line x1="1591.85" y1="1455.16" x2="1591.85" y2="1461.59"/>
<line x1="1591.85" y1="1474.1" x2="1591.85" y2="1489.05"/>
<line x1="1586.13" y1="1455.16" x2="1597.57" y2="1455.16"/>
<line x1="1586.13" y1="1489.05" x2="1597.57" y2="1489.05"/>
<rect x="1580.41" y="1461.59" width="22.87" height="12.52" fill="#4576a7" stroke-linejoin="miter"/>
<line x1="1580.41" y1="1466.28" x2="1603.29" y2="1466.28" stroke-linecap="butt"/>
<line x1="1632.7" y1="1456.72" x2="1632.7" y2="1462.46"/>
<line x1="1632.7" y1="1473.23" x2="1632.7" y2="1489.75"/>
<line x1="1626.98" y1="1456.72" x2="1638.41" y2="1456.72"/>
<line x1="1626.98" y1="1489.75" x2="1638.41" y2="1489.75"/>
<rect x="1621.26" y="1462.46" width="22.87" height="10.78" fill="#cbdcea" stroke-linejoin="miter"/>
<line x1="1621.26" y1="1466.28" x2="1644.13" y2="1466.28" stroke-linecap="butt"/>
<line x1="1656.04" y1="1456.03" x2="1656.04" y2="1463.33"/>
<line x1="1656.04" y1="1476.88" x2="1656.04" y2="1497.22"/>
<line x1="1650.32" y1="1456.03" x2="1661.75" y2="1456.03"/>
<line x1="1650.32" y1="1497.22" x2="1661.75" y2="1497.22"/>
<rect x="1644.6" y="1463.33" width="22.87" height="13.56" fill="#7db1c7" stroke-linejoin="miter"/>
<line x1="1644.6" y1="1468.02" x2="1667.47" y2="1468.02" stroke-linecap="butt"/>
<line x1="1679.38" y1="1452.9" x2="1679.38" y2="1456.89"/>
<line x1="1679.38" y1="1466.28" x2="1679.38" y2="1478.97"/>
<line x1="1673.66" y1="1452.9" x2="1685.1" y2="1452.9"/>
<line x1="1673.66" y1="1478.97" x2="1685.1" y2="1478.97"/>
<rect x="1667.94" y="1456.89" width="22.87" height="9.39" fill="#4576a7" stroke-linejoin="miter"/>
<line x1="1667.94" y1="1460.72" x2="1690.81" y2="1460.72" stroke-linecap="butt"/>
</g>
<rect x="124.3" y="1418.7" width="1575.5" height="520.8" fill="none" stroke="#000" stroke-width="1.9"/>
<line x1="116.8" y1="1442.8" x2="124.3" y2="1442.8" stroke="#000" stroke-width="1.9"/>
<text x="107.6" y="1452.8" font-size="28.3" text-anchor="end">1.0</text>
<line x1="116.8" y1="1516.6" x2="124.3" y2="1516.6" stroke="#000" stroke-width="1.9"/>
<text x="107.6" y="1526.6" font-size="28.3" text-anchor="end">0.9</text>
<line x1="116.8" y1="1590.4" x2="124.3" y2="1590.4" stroke="#000" stroke-width="1.9"/>
<text x="107.6" y="1600.4" font-size="28.3" text-anchor="end">0.8</text>
<line x1="116.8" y1="1664.2" x2="124.3" y2="1664.2" stroke="#000" stroke-width="1.9"/>
<text x="107.6" y="1674.2" font-size="28.3" text-anchor="end">0.7</text>
<line x1="116.8" y1="1738" x2="124.3" y2="1738" stroke="#000" stroke-width="1.9"/>
<text x="107.6" y="1748" font-size="28.3" text-anchor="end">0.6</text>
<line x1="116.8" y1="1811.8" x2="124.3" y2="1811.8" stroke="#000" stroke-width="1.9"/>
<text x="107.6" y="1821.8" font-size="28.3" text-anchor="end">0.5</text>
<line x1="116.8" y1="1885.6" x2="124.3" y2="1885.6" stroke="#000" stroke-width="1.9"/>
<text x="107.6" y="1895.6" font-size="28.3" text-anchor="end">0.4</text>
<line x1="168.06" y1="1939.5" x2="168.06" y2="1947" stroke="#000" stroke-width="1.9"/>
<text transform="translate(168.06,1974.01) rotate(-20)" x="0" y="7.36" font-size="28.3" text-anchor="middle">T1</text>
<line x1="255.59" y1="1939.5" x2="255.59" y2="1947" stroke="#000" stroke-width="1.9"/>
<text transform="translate(255.59,1974.01) rotate(-20)" x="0" y="7.36" font-size="28.3" text-anchor="middle">T2</text>
<line x1="343.12" y1="1939.5" x2="343.12" y2="1947" stroke="#000" stroke-width="1.9"/>
<text transform="translate(343.12,1974.01) rotate(-20)" x="0" y="7.36" font-size="28.3" text-anchor="middle">T3</text>
<line x1="430.65" y1="1939.5" x2="430.65" y2="1947" stroke="#000" stroke-width="1.9"/>
<text transform="translate(430.65,1974.01) rotate(-20)" x="0" y="7.36" font-size="28.3" text-anchor="middle">T4</text>
<line x1="518.17" y1="1939.5" x2="518.17" y2="1947" stroke="#000" stroke-width="1.9"/>
<text transform="translate(518.17,1974.01) rotate(-20)" x="0" y="7.36" font-size="28.3" text-anchor="middle">T5</text>
<line x1="605.7" y1="1939.5" x2="605.7" y2="1947" stroke="#000" stroke-width="1.9"/>
<text transform="translate(605.7,1974.01) rotate(-20)" x="0" y="7.36" font-size="28.3" text-anchor="middle">T6</text>
<line x1="693.23" y1="1939.5" x2="693.23" y2="1947" stroke="#000" stroke-width="1.9"/>
<text transform="translate(693.23,1974.01) rotate(-20)" x="0" y="7.36" font-size="28.3" text-anchor="middle">T7</text>
<line x1="780.76" y1="1939.5" x2="780.76" y2="1947" stroke="#000" stroke-width="1.9"/>
<text transform="translate(780.76,1974.01) rotate(-20)" x="0" y="7.36" font-size="28.3" text-anchor="middle">T8</text>
<line x1="868.29" y1="1939.5" x2="868.29" y2="1947" stroke="#000" stroke-width="1.9"/>
<text transform="translate(868.29,1974.01) rotate(-20)" x="0" y="7.36" font-size="28.3" text-anchor="middle">T9</text>
<line x1="955.81" y1="1939.5" x2="955.81" y2="1947" stroke="#000" stroke-width="1.9"/>
<text transform="translate(955.81,1976.7) rotate(-20)" x="0" y="7.36" font-size="28.3" text-anchor="middle">T10</text>
<line x1="1043.34" y1="1939.5" x2="1043.34" y2="1947" stroke="#000" stroke-width="1.9"/>
<text transform="translate(1043.34,1976.7) rotate(-20)" x="0" y="7.36" font-size="28.3" text-anchor="middle">T11</text>
<line x1="1130.87" y1="1939.5" x2="1130.87" y2="1947" stroke="#000" stroke-width="1.9"/>
<text transform="translate(1130.87,1976.7) rotate(-20)" x="0" y="7.36" font-size="28.3" text-anchor="middle">T12</text>
<line x1="1218.4" y1="1939.5" x2="1218.4" y2="1947" stroke="#000" stroke-width="1.9"/>
<text transform="translate(1218.4,1976.7) rotate(-20)" x="0" y="7.36" font-size="28.3" text-anchor="middle">T13</text>
<line x1="1305.92" y1="1939.5" x2="1305.92" y2="1947" stroke="#000" stroke-width="1.9"/>
<text transform="translate(1305.92,1976.7) rotate(-20)" x="0" y="7.36" font-size="28.3" text-anchor="middle">T14</text>
<line x1="1393.45" y1="1939.5" x2="1393.45" y2="1947" stroke="#000" stroke-width="1.9"/>
<text transform="translate(1393.45,1976.7) rotate(-20)" x="0" y="7.36" font-size="28.3" text-anchor="middle">T15</text>
<line x1="1480.98" y1="1939.5" x2="1480.98" y2="1947" stroke="#000" stroke-width="1.9"/>
<text transform="translate(1480.98,1976.7) rotate(-20)" x="0" y="7.36" font-size="28.3" text-anchor="middle">T16</text>
<line x1="1568.51" y1="1939.5" x2="1568.51" y2="1947" stroke="#000" stroke-width="1.9"/>
<text transform="translate(1568.51,1976.7) rotate(-20)" x="0" y="7.36" font-size="28.3" text-anchor="middle">T17</text>
<line x1="1656.04" y1="1939.5" x2="1656.04" y2="1947" stroke="#000" stroke-width="1.9"/>
<text transform="translate(1656.04,1976.7) rotate(-20)" x="0" y="7.36" font-size="28.3" text-anchor="middle">T18</text>
<text x="911.55" y="2027" font-size="28.3" text-anchor="middle">Task</text>
<text transform="translate(53.5,1679.1) rotate(-90)" x="0" y="0" font-size="28.3" text-anchor="middle">Dice</text>
<rect x="1422.7" y="1796.9" width="263.4" height="127.8" rx="4" ry="4" fill="#fff" fill-opacity="0.8" stroke="#cccccc" stroke-width="1.9"/>
<rect x="1434.1" y="1808.6" width="55.8" height="19.4" fill="#cbdcea" stroke="#33363a" stroke-width="2"/>
<text x="1512" y="1828.3" font-size="28.3">MedSAM</text>
<rect x="1434.1" y="1848.85" width="55.8" height="19.4" fill="#7db1c7" stroke="#33363a" stroke-width="2"/>
<text x="1512" y="1868.55" font-size="28.3">SAM-Med2D</text>
<rect x="1434.1" y="1889.1" width="55.8" height="19.4" fill="#4576a7" stroke="#33363a" stroke-width="2"/>
<text x="1512" y="1908.8" font-size="28.3">Ours</text>
<text x="-1.7" y="2070" font-size="50" font-weight="bold">d</text>
<text x="912.05" y="2089.1" font-size="28.3" text-anchor="middle">Performance on 100% fine-tuning data</text>
<g stroke="#33363a" stroke-width="2" stroke-linecap="square">
<line x1="144.72" y1="2210.7" x2="144.72" y2="2229.3"/>
<line x1="144.72" y1="2263.27" x2="144.72" y2="2306.98"/>
<line x1="139" y1="2210.7" x2="150.44" y2="2210.7"/>
<line x1="139" y1="2306.98" x2="150.44" y2="2306.98"/>
<rect x="133.29" y="2229.3" width="22.87" height="33.97" fill="#cbdcea" stroke-linejoin="miter"/>
<line x1="133.29" y1="2242.72" x2="156.16" y2="2242.72" stroke-linecap="butt"/>
<line x1="168.06" y1="2195.55" x2="168.06" y2="2212.86"/>
<line x1="168.06" y1="2244.23" x2="168.06" y2="2282.31"/>
<line x1="162.35" y1="2195.55" x2="173.78" y2="2195.55"/>
<line x1="162.35" y1="2282.31" x2="173.78" y2="2282.31"/>
<rect x="156.63" y="2212.86" width="22.87" height="31.37" fill="#7db1c7" stroke-linejoin="miter"/>
<line x1="156.63" y1="2227.57" x2="179.5" y2="2227.57" stroke-linecap="butt"/>
<line x1="191.4" y1="2166.34" x2="191.4" y2="2177.16"/>
<line x1="191.4" y1="2194.68" x2="191.4" y2="2217.84"/>
<line x1="185.69" y1="2166.34" x2="197.12" y2="2166.34"/>
<line x1="185.69" y1="2217.84" x2="197.12" y2="2217.84"/>
<rect x="179.97" y="2177.16" width="22.87" height="17.53" fill="#4576a7" stroke-linejoin="miter"/>
<line x1="179.97" y1="2183.87" x2="202.84" y2="2183.87" stroke-linecap="butt"/>
<line x1="232.25" y1="2150.11" x2="232.25" y2="2200.09"/>
<line x1="232.25" y1="2286.42" x2="232.25" y2="2416.24"/>
<line x1="226.53" y1="2150.11" x2="237.97" y2="2150.11"/>
<line x1="226.53" y1="2416.24" x2="237.97" y2="2416.24"/>
<rect x="220.81" y="2200.09" width="22.87" height="86.33" fill="#cbdcea" stroke-linejoin="miter"/>
<line x1="220.81" y1="2235.14" x2="243.69" y2="2235.14" stroke-linecap="butt"/>
<line x1="255.59" y1="2153.58" x2="255.59" y2="2205.29"/>
<line x1="255.59" y1="2297.24" x2="255.59" y2="2435.93"/>
<line x1="249.87" y1="2153.58" x2="261.31" y2="2153.58"/>
<line x1="249.87" y1="2435.93" x2="261.31" y2="2435.93"/>
<rect x="244.15" y="2205.29" width="22.87" height="91.95" fill="#7db1c7" stroke-linejoin="miter"/>
<line x1="244.15" y1="2241.2" x2="267.03" y2="2241.2" stroke-linecap="butt"/>
<line x1="278.93" y1="2135.62" x2="278.93" y2="2165.48"/>
<line x1="278.93" y1="2220.65" x2="278.93" y2="2302.65"/>
<line x1="273.21" y1="2135.62" x2="284.65" y2="2135.62"/>
<line x1="273.21" y1="2302.65" x2="284.65" y2="2302.65"/>
<rect x="267.5" y="2165.48" width="22.87" height="55.17" fill="#4576a7" stroke-linejoin="miter"/>
<line x1="267.5" y1="2185.38" x2="290.37" y2="2185.38" stroke-linecap="butt"/>
<line x1="319.78" y1="2142.11" x2="319.78" y2="2171.32"/>
<line x1="319.78" y1="2199.01" x2="319.78" y2="2235.79"/>
<line x1="314.06" y1="2142.11" x2="325.5" y2="2142.11"/>
<line x1="314.06" y1="2235.79" x2="325.5" y2="2235.79"/>
<rect x="308.34" y="2171.32" width="22.87" height="27.69" fill="#cbdcea" stroke-linejoin="miter"/>
<line x1="308.34" y1="2181.49" x2="331.22" y2="2181.49" stroke-linecap="butt"/>
<line x1="343.12" y1="2146" x2="343.12" y2="2176.29"/>
<line x1="343.12" y1="2211.99" x2="343.12" y2="2258.3"/>
<line x1="337.4" y1="2146" x2="348.84" y2="2146"/>
<line x1="337.4" y1="2258.3" x2="348.84" y2="2258.3"/>
<rect x="331.68" y="2176.29" width="22.87" height="35.7" fill="#7db1c7" stroke-linejoin="miter"/>
<line x1="331.68" y1="2188.19" x2="354.56" y2="2188.19" stroke-linecap="butt"/>
<line x1="366.46" y1="2141.68" x2="366.46" y2="2158.77"/>
<line x1="366.46" y1="2186.03" x2="366.46" y2="2214.59"/>
<line x1="360.74" y1="2141.68" x2="372.18" y2="2141.68"/>
<line x1="360.74" y1="2214.59" x2="372.18" y2="2214.59"/>
<rect x="355.02" y="2158.77" width="22.87" height="27.26" fill="#4576a7" stroke-linejoin="miter"/>
<line x1="355.02" y1="2170.24" x2="377.9" y2="2170.24" stroke-linecap="butt"/>
<line x1="407.31" y1="2145.35" x2="407.31" y2="2169.8"/>
<line x1="407.31" y1="2221.08" x2="407.31" y2="2293.56"/>
<line x1="401.59" y1="2145.35" x2="413.02" y2="2145.35"/>
<line x1="401.59" y1="2293.56" x2="413.02" y2="2293.56"/>
<rect x="395.87" y="2169.8" width="22.87" height="51.28" fill="#cbdcea" stroke-linejoin="miter"/>
<line x1="395.87" y1="2192.3" x2="418.74" y2="2192.3" stroke-linecap="butt"/>
<line x1="430.65" y1="2139.95" x2="430.65" y2="2177.81"/>
<line x1="430.65" y1="2228" x2="430.65" y2="2293.56"/>
<line x1="424.93" y1="2139.95" x2="436.37" y2="2139.95"/>
<line x1="424.93" y1="2293.56" x2="436.37" y2="2293.56"/>
<rect x="419.21" y="2177.81" width="22.87" height="50.2" fill="#7db1c7" stroke-linejoin="miter"/>
<line x1="419.21" y1="2194.04" x2="442.08" y2="2194.04" stroke-linecap="butt"/>
<line x1="453.99" y1="2136.7" x2="453.99" y2="2157.25"/>
<line x1="453.99" y1="2188.63" x2="453.99" y2="2222.6"/>
<line x1="448.27" y1="2136.7" x2="459.71" y2="2136.7"/>
<line x1="448.27" y1="2222.6" x2="459.71" y2="2222.6"/>
<rect x="442.55" y="2157.25" width="22.87" height="31.37" fill="#4576a7" stroke-linejoin="miter"/>
<line x1="442.55" y1="2169.8" x2="465.43" y2="2169.8" stroke-linecap="butt"/>
<line x1="494.83" y1="2129.09" x2="494.83" y2="2136.82"/>
<line x1="494.83" y1="2149.91" x2="494.83" y2="2168.7"/>
<line x1="489.12" y1="2129.09" x2="500.55" y2="2129.09"/>
<line x1="489.12" y1="2168.7" x2="500.55" y2="2168.7"/>
<rect x="483.4" y="2136.82" width="22.87" height="13.09" fill="#cbdcea" stroke-linejoin="miter"/>
<line x1="483.4" y1="2140.98" x2="506.27" y2="2140.98" stroke-linecap="butt"/>
<line x1="518.17" y1="2131.7" x2="518.17" y2="2138.01"/>
<line x1="518.17" y1="2150.14" x2="518.17" y2="2166.92"/>
<line x1="512.46" y1="2131.7" x2="523.89" y2="2131.7"/>
<line x1="512.46" y1="2166.92" x2="523.89" y2="2166.92"/>
<rect x="506.74" y="2138.01" width="22.87" height="12.13" fill="#7db1c7" stroke-linejoin="miter"/>
<line x1="506.74" y1="2141.58" x2="529.61" y2="2141.58" stroke-linecap="butt"/>
<line x1="541.52" y1="2129.68" x2="541.52" y2="2134.8"/>
<line x1="541.52" y1="2143.36" x2="541.52" y2="2156.09"/>
<line x1="535.8" y1="2129.68" x2="547.23" y2="2129.68"/>
<line x1="535.8" y1="2156.09" x2="547.23" y2="2156.09"/>
<rect x="530.08" y="2134.8" width="22.87" height="8.57" fill="#4576a7" stroke-linejoin="miter"/>
<line x1="530.08" y1="2138.01" x2="552.95" y2="2138.01" stroke-linecap="butt"/>
<line x1="582.36" y1="2128.73" x2="582.36" y2="2134.68"/>
<line x1="582.36" y1="2151.1" x2="582.36" y2="2174.89"/>
<line x1="576.64" y1="2128.73" x2="588.08" y2="2128.73"/>
<line x1="576.64" y1="2174.89" x2="588.08" y2="2174.89"/>
<rect x="570.92" y="2134.68" width="22.87" height="16.42" fill="#cbdcea" stroke-linejoin="miter"/>
<line x1="570.92" y1="2139.44" x2="593.8" y2="2139.44" stroke-linecap="butt"/>
<line x1="605.7" y1="2130.63" x2="605.7" y2="2136.22"/>
<line x1="605.7" y1="2163.94" x2="605.7" y2="2204.99"/>
<line x1="599.98" y1="2130.63" x2="611.42" y2="2130.63"/>
<line x1="599.98" y1="2204.99" x2="611.42" y2="2204.99"/>
<rect x="594.27" y="2136.22" width="22.87" height="27.72" fill="#7db1c7" stroke-linejoin="miter"/>
<line x1="594.27" y1="2143.96" x2="617.14" y2="2143.96" stroke-linecap="butt"/>
<line x1="629.04" y1="2128.25" x2="629.04" y2="2132.66"/>
<line x1="629.04" y1="2144.91" x2="629.04" y2="2162.75"/>
<line x1="623.33" y1="2128.25" x2="634.76" y2="2128.25"/>
<line x1="623.33" y1="2162.75" x2="634.76" y2="2162.75"/>
<rect x="617.61" y="2132.66" width="22.87" height="12.25" fill="#4576a7" stroke-linejoin="miter"/>
<line x1="617.61" y1="2136.22" x2="640.48" y2="2136.22" stroke-linecap="butt"/>
<line x1="669.89" y1="2136.05" x2="669.89" y2="2142.54"/>
<line x1="669.89" y1="2162.23" x2="669.89" y2="2189.71"/>
<line x1="664.17" y1="2136.05" x2="675.61" y2="2136.05"/>
<line x1="664.17" y1="2189.71" x2="675.61" y2="2189.71"/>
<rect x="658.45" y="2142.54" width="22.87" height="19.69" fill="#cbdcea" stroke-linejoin="miter"/>
<line x1="658.45" y1="2147.52" x2="681.33" y2="2147.52" stroke-linecap="butt"/>
<line x1="693.23" y1="2135.19" x2="693.23" y2="2149.03"/>
<line x1="693.23" y1="2176.73" x2="693.23" y2="2219.35"/>
<line x1="687.51" y1="2135.19" x2="698.95" y2="2135.19"/>
<line x1="687.51" y1="2219.35" x2="698.95" y2="2219.35"/>
<rect x="681.79" y="2149.03" width="22.87" height="27.69" fill="#7db1c7" stroke-linejoin="miter"/>
<line x1="681.79" y1="2156.82" x2="704.67" y2="2156.82" stroke-linecap="butt"/>
<line x1="716.57" y1="2130.86" x2="716.57" y2="2136.7"/>
<line x1="716.57" y1="2152.28" x2="716.57" y2="2172.4"/>
<line x1="710.85" y1="2130.86" x2="722.29" y2="2130.86"/>
<line x1="710.85" y1="2172.4" x2="722.29" y2="2172.4"/>
<rect x="705.13" y="2136.7" width="22.87" height="15.58" fill="#4576a7" stroke-linejoin="miter"/>
<line x1="705.13" y1="2141.03" x2="728.01" y2="2141.03" stroke-linecap="butt"/>
<line x1="757.42" y1="2156.82" x2="757.42" y2="2218.92"/>
<line x1="757.42" y1="2281.01" x2="757.42" y2="2372.97"/>
<line x1="751.7" y1="2156.82" x2="763.14" y2="2156.82"/>
<line x1="751.7" y1="2372.97" x2="763.14" y2="2372.97"/>
<rect x="745.98" y="2218.92" width="22.87" height="62.1" fill="#cbdcea" stroke-linejoin="miter"/>
<line x1="745.98" y1="2244.23" x2="768.85" y2="2244.23" stroke-linecap="butt"/>
<line x1="780.76" y1="2165.91" x2="780.76" y2="2260.46"/>
<line x1="780.76" y1="2359.12" x2="780.76" y2="2507.33"/>
<line x1="775.04" y1="2165.91" x2="786.48" y2="2165.91"/>
<line x1="775.04" y1="2507.33" x2="786.48" y2="2507.33"/>
<rect x="769.32" y="2260.46" width="22.87" height="98.66" fill="#7db1c7" stroke-linejoin="miter"/>
<line x1="769.32" y1="2303.3" x2="792.2" y2="2303.3" stroke-linecap="butt"/>
<line x1="804.1" y1="2151.2" x2="804.1" y2="2204.42"/>
<line x1="804.1" y1="2260.03" x2="804.1" y2="2336.83"/>
<line x1="798.38" y1="2151.2" x2="809.82" y2="2151.2"/>
<line x1="798.38" y1="2336.83" x2="809.82" y2="2336.83"/>
<rect x="792.66" y="2204.42" width="22.87" height="55.61" fill="#4576a7" stroke-linejoin="miter"/>
<line x1="792.66" y1="2229.09" x2="815.54" y2="2229.09" stroke-linecap="butt"/>
<line x1="844.95" y1="2142.11" x2="844.95" y2="2173.48"/>
<line x1="844.95" y1="2242.28" x2="844.95" y2="2342.68"/>
<line x1="839.23" y1="2142.11" x2="850.66" y2="2142.11"/>
<line x1="839.23" y1="2342.68" x2="850.66" y2="2342.68"/>
<rect x="833.51" y="2173.48" width="22.87" height="68.8" fill="#cbdcea" stroke-linejoin="miter"/>
<line x1="833.51" y1="2202.69" x2="856.38" y2="2202.69" stroke-linecap="butt"/>
<line x1="868.29" y1="2138.43" x2="868.29" y2="2183.22"/>
<line x1="868.29" y1="2257.86" x2="868.29" y2="2367.13"/>
<line x1="862.57" y1="2138.43" x2="874" y2="2138.43"/>
<line x1="862.57" y1="2367.13" x2="874" y2="2367.13"/>
<rect x="856.85" y="2183.22" width="22.87" height="74.64" fill="#7db1c7" stroke-linejoin="miter"/>
<line x1="856.85" y1="2210.26" x2="879.72" y2="2210.26" stroke-linecap="butt"/>
<line x1="891.63" y1="2138.86" x2="891.63" y2="2154.01"/>
<line x1="891.63" y1="2189.28" x2="891.63" y2="2236.23"/>
<line x1="885.91" y1="2138.86" x2="897.35" y2="2138.86"/>
<line x1="885.91" y1="2236.23" x2="897.35" y2="2236.23"/>
<rect x="880.19" y="2154.01" width="22.87" height="35.27" fill="#4576a7" stroke-linejoin="miter"/>
<line x1="880.19" y1="2169.59" x2="903.06" y2="2169.59" stroke-linecap="butt"/>
<line x1="932.47" y1="2154.66" x2="932.47" y2="2226.92"/>
<line x1="932.47" y1="2327.75" x2="932.47" y2="2476.39"/>
<line x1="926.75" y1="2154.66" x2="938.19" y2="2154.66"/>
<line x1="926.75" y1="2476.39" x2="938.19" y2="2476.39"/>
<rect x="921.04" y="2226.92" width="22.87" height="100.82" fill="#cbdcea" stroke-linejoin="miter"/>
<line x1="921.04" y1="2265.87" x2="943.91" y2="2265.87" stroke-linecap="butt"/>
<line x1="955.81" y1="2146.44" x2="955.81" y2="2216.75"/>
<line x1="955.81" y1="2371.89" x2="955.81" y2="2598.63"/>
<line x1="950.1" y1="2146.44" x2="961.53" y2="2146.44"/>
<line x1="950.1" y1="2598.63" x2="961.53" y2="2598.63"/>
<rect x="944.38" y="2216.75" width="22.87" height="155.13" fill="#7db1c7" stroke-linejoin="miter"/>
<line x1="944.38" y1="2284.91" x2="967.25" y2="2284.91" stroke-linecap="butt"/>
<line x1="979.15" y1="2141.03" x2="979.15" y2="2189.71"/>
<line x1="979.15" y1="2279.5" x2="979.15" y2="2411.48"/>
<line x1="973.44" y1="2141.03" x2="984.87" y2="2141.03"/>
<line x1="973.44" y1="2411.48" x2="984.87" y2="2411.48"/>
<rect x="967.72" y="2189.71" width="22.87" height="89.79" fill="#4576a7" stroke-linejoin="miter"/>
<line x1="967.72" y1="2230.17" x2="990.59" y2="2230.17" stroke-linecap="butt"/>
<line x1="1020" y1="2140.59" x2="1020" y2="2150.33"/>
<line x1="1020" y1="2167.64" x2="1020" y2="2186.9"/>
<line x1="1014.28" y1="2140.59" x2="1025.72" y2="2140.59"/>
<line x1="1014.28" y1="2186.9" x2="1025.72" y2="2186.9"/>
<rect x="1008.56" y="2150.33" width="22.87" height="17.31" fill="#cbdcea" stroke-linejoin="miter"/>
<line x1="1008.56" y1="2159.85" x2="1031.44" y2="2159.85" stroke-linecap="butt"/>
<line x1="1043.34" y1="2141.68" x2="1043.34" y2="2148.6"/>
<line x1="1043.34" y1="2165.91" x2="1043.34" y2="2184.95"/>
<line x1="1037.62" y1="2141.68" x2="1049.06" y2="2141.68"/>
<line x1="1037.62" y1="2184.95" x2="1049.06" y2="2184.95"/>
<rect x="1031.9" y="2148.6" width="22.87" height="17.31" fill="#7db1c7" stroke-linejoin="miter"/>
<line x1="1031.9" y1="2156.17" x2="1054.78" y2="2156.17" stroke-linecap="butt"/>
<line x1="1066.68" y1="2134.1" x2="1066.68" y2="2141.68"/>
<line x1="1066.68" y1="2153.58" x2="1066.68" y2="2169.15"/>
<line x1="1060.96" y1="2134.1" x2="1072.4" y2="2134.1"/>
<line x1="1060.96" y1="2169.15" x2="1072.4" y2="2169.15"/>
<rect x="1055.25" y="2141.68" width="22.87" height="11.9" fill="#4576a7" stroke-linejoin="miter"/>
<line x1="1055.25" y1="2147.52" x2="1078.12" y2="2147.52" stroke-linecap="butt"/>
<line x1="1107.53" y1="2194.04" x2="1107.53" y2="2202.04"/>
<line x1="1107.53" y1="2235.14" x2="1107.53" y2="2284.26"/>
<line x1="1101.81" y1="2194.04" x2="1113.25" y2="2194.04"/>
<line x1="1101.81" y1="2284.26" x2="1113.25" y2="2284.26"/>
<rect x="1096.09" y="2202.04" width="22.87" height="33.1" fill="#cbdcea" stroke-linejoin="miter"/>
<line x1="1096.09" y1="2211.34" x2="1118.97" y2="2211.34" stroke-linecap="butt"/>
<line x1="1130.87" y1="2189.06" x2="1130.87" y2="2196.2"/>
<line x1="1130.87" y1="2232.98" x2="1130.87" y2="2288.15"/>
<line x1="1125.15" y1="2189.06" x2="1136.59" y2="2189.06"/>
<line x1="1125.15" y1="2288.15" x2="1136.59" y2="2288.15"/>
<rect x="1119.43" y="2196.2" width="22.87" height="36.78" fill="#7db1c7" stroke-linejoin="miter"/>
<line x1="1119.43" y1="2205.94" x2="1142.31" y2="2205.94" stroke-linecap="butt"/>
<line x1="1154.21" y1="2175.21" x2="1154.21" y2="2184.3"/>
<line x1="1154.21" y1="2208.1" x2="1154.21" y2="2242.28"/>
<line x1="1148.49" y1="2175.21" x2="1159.93" y2="2175.21"/>
<line x1="1148.49" y1="2242.28" x2="1159.93" y2="2242.28"/>
<rect x="1142.77" y="2184.3" width="22.87" height="23.8" fill="#4576a7" stroke-linejoin="miter"/>
<line x1="1142.77" y1="2194.04" x2="1165.65" y2="2194.04" stroke-linecap="butt"/>
<line x1="1195.06" y1="2125.41" x2="1195.06" y2="2125.53"/>
<line x1="1195.06" y1="2125.71" x2="1195.06" y2="2125.83"/>
<line x1="1189.34" y1="2125.41" x2="1200.77" y2="2125.41"/>
<line x1="1189.34" y1="2125.83" x2="1200.77" y2="2125.83"/>
<rect x="1183.62" y="2125.53" width="22.87" height="0.18" fill="#cbdcea" stroke-linejoin="miter"/>
<line x1="1183.62" y1="2125.59" x2="1206.49" y2="2125.59" stroke-linecap="butt"/>
<line x1="1218.4" y1="2131.95" x2="1218.4" y2="2136.12"/>
<line x1="1218.4" y1="2154.56" x2="1218.4" y2="2181.92"/>
<line x1="1212.68" y1="2131.95" x2="1224.12" y2="2131.95"/>
<line x1="1212.68" y1="2181.92" x2="1224.12" y2="2181.92"/>
<rect x="1206.96" y="2136.12" width="22.87" height="18.44" fill="#7db1c7" stroke-linejoin="miter"/>
<line x1="1206.96" y1="2139.98" x2="1229.83" y2="2139.98" stroke-linecap="butt"/>
<line x1="1241.74" y1="2125.23" x2="1241.74" y2="2125.35"/>
<line x1="1241.74" y1="2125.47" x2="1241.74" y2="2125.59"/>
<line x1="1236.02" y1="2125.23" x2="1247.46" y2="2125.23"/>
<line x1="1236.02" y1="2125.59" x2="1247.46" y2="2125.59"/>
<rect x="1230.3" y="2125.35" width="22.87" height="0.12" fill="#4576a7" stroke-linejoin="miter"/>
<line x1="1230.3" y1="2125.41" x2="1253.18" y2="2125.41" stroke-linecap="butt"/>
<line x1="1282.58" y1="2141.68" x2="1282.58" y2="2173.91"/>
<line x1="1282.58" y1="2242.72" x2="1282.58" y2="2336.83"/>
<line x1="1276.87" y1="2141.68" x2="1288.3" y2="2141.68"/>
<line x1="1276.87" y1="2336.83" x2="1288.3" y2="2336.83"/>
<rect x="1271.15" y="2173.91" width="22.87" height="68.8" fill="#cbdcea" stroke-linejoin="miter"/>
<line x1="1271.15" y1="2204.85" x2="1294.02" y2="2204.85" stroke-linecap="butt"/>
<line x1="1305.92" y1="2141.68" x2="1305.92" y2="2181.7"/>
<line x1="1305.92" y1="2266.52" x2="1305.92" y2="2389.84"/>
<line x1="1300.21" y1="2141.68" x2="1311.64" y2="2141.68"/>
<line x1="1300.21" y1="2389.84" x2="1311.64" y2="2389.84"/>
<rect x="1294.49" y="2181.7" width="22.87" height="84.81" fill="#7db1c7" stroke-linejoin="miter"/>
<line x1="1294.49" y1="2211.34" x2="1317.36" y2="2211.34" stroke-linecap="butt"/>
<line x1="1329.27" y1="2136.27" x2="1329.27" y2="2162.01"/>
<line x1="1329.27" y1="2218.27" x2="1329.27" y2="2296.38"/>
<line x1="1323.55" y1="2136.27" x2="1334.98" y2="2136.27"/>
<line x1="1323.55" y1="2296.38" x2="1334.98" y2="2296.38"/>
<rect x="1317.83" y="2162.01" width="22.87" height="56.25" fill="#4576a7" stroke-linejoin="miter"/>
<line x1="1317.83" y1="2183.22" x2="1340.7" y2="2183.22" stroke-linecap="butt"/>
<line x1="1370.11" y1="2188.19" x2="1370.11" y2="2247.04"/>
<line x1="1370.11" y1="2331.43" x2="1370.11" y2="2456.92"/>
<line x1="1364.39" y1="2188.19" x2="1375.83" y2="2188.19"/>
<line x1="1364.39" y1="2456.92" x2="1375.83" y2="2456.92"/>
<rect x="1358.67" y="2247.04" width="22.87" height="84.38" fill="#cbdcea" stroke-linejoin="miter"/>
<line x1="1358.67" y1="2282.1" x2="1381.55" y2="2282.1" stroke-linecap="butt"/>
<line x1="1393.45" y1="2189.71" x2="1393.45" y2="2252.89"/>
<line x1="1393.45" y1="2390.93" x2="1393.45" y2="2596.47"/>
<line x1="1387.73" y1="2189.71" x2="1399.17" y2="2189.71"/>
<line x1="1387.73" y1="2596.47" x2="1399.17" y2="2596.47"/>
<rect x="1382.02" y="2252.89" width="22.87" height="138.04" fill="#7db1c7" stroke-linejoin="miter"/>
<line x1="1382.02" y1="2308.71" x2="1404.89" y2="2308.71" stroke-linecap="butt"/>
<line x1="1416.79" y1="2164.18" x2="1416.79" y2="2205.29"/>
<line x1="1416.79" y1="2266.52" x2="1416.79" y2="2357.39"/>
<line x1="1411.08" y1="2164.18" x2="1422.51" y2="2164.18"/>
<line x1="1411.08" y1="2357.39" x2="1422.51" y2="2357.39"/>
<rect x="1405.36" y="2205.29" width="22.87" height="61.23" fill="#4576a7" stroke-linejoin="miter"/>
<line x1="1405.36" y1="2229.09" x2="1428.23" y2="2229.09" stroke-linecap="butt"/>
<line x1="1457.64" y1="2147.59" x2="1457.64" y2="2156.62"/>
<line x1="1457.64" y1="2179.22" x2="1457.64" y2="2211.03"/>
<line x1="1451.92" y1="2147.59" x2="1463.36" y2="2147.59"/>
<line x1="1451.92" y1="2211.03" x2="1463.36" y2="2211.03"/>
<rect x="1446.2" y="2156.62" width="22.87" height="22.6" fill="#cbdcea" stroke-linejoin="miter"/>
<line x1="1446.2" y1="2165.32" x2="1469.08" y2="2165.32" stroke-linecap="butt"/>
<line x1="1480.98" y1="2143.94" x2="1480.98" y2="2156.97"/>
<line x1="1480.98" y1="2181.83" x2="1480.98" y2="2210.16"/>
<line x1="1475.26" y1="2143.94" x2="1486.7" y2="2143.94"/>
<line x1="1475.26" y1="2210.16" x2="1486.7" y2="2210.16"/>
<rect x="1469.54" y="2156.97" width="22.87" height="24.86" fill="#7db1c7" stroke-linejoin="miter"/>
<line x1="1469.54" y1="2163.93" x2="1492.42" y2="2163.93" stroke-linecap="butt"/>
<line x1="1504.32" y1="2137.16" x2="1504.32" y2="2147.06"/>
<line x1="1504.32" y1="2165.32" x2="1504.32" y2="2178.7"/>
<line x1="1498.6" y1="2137.16" x2="1510.04" y2="2137.16"/>
<line x1="1498.6" y1="2178.7" x2="1510.04" y2="2178.7"/>
<rect x="1492.88" y="2147.06" width="22.87" height="18.25" fill="#4576a7" stroke-linejoin="miter"/>
<line x1="1492.88" y1="2152.8" x2="1515.76" y2="2152.8" stroke-linecap="butt"/>
<line x1="1545.17" y1="2138.72" x2="1545.17" y2="2151.76"/>
<line x1="1545.17" y1="2166.19" x2="1545.17" y2="2187.57"/>
<line x1="1539.45" y1="2138.72" x2="1550.89" y2="2138.72"/>
<line x1="1539.45" y1="2187.57" x2="1550.89" y2="2187.57"/>
<rect x="1533.73" y="2151.76" width="22.87" height="14.43" fill="#cbdcea" stroke-linejoin="miter"/>
<line x1="1533.73" y1="2157.49" x2="1556.6" y2="2157.49" stroke-linecap="butt"/>
<line x1="1568.51" y1="2138.37" x2="1568.51" y2="2153.5"/>
<line x1="1568.51" y1="2170.88" x2="1568.51" y2="2192.61"/>
<line x1="1562.79" y1="2138.37" x2="1574.23" y2="2138.37"/>
<line x1="1562.79" y1="2192.61" x2="1574.23" y2="2192.61"/>
<rect x="1557.07" y="2153.5" width="22.87" height="17.38" fill="#7db1c7" stroke-linejoin="miter"/>
<line x1="1557.07" y1="2158.88" x2="1579.95" y2="2158.88" stroke-linecap="butt"/>
<line x1="1591.85" y1="2135.24" x2="1591.85" y2="2144.98"/>
<line x1="1591.85" y1="2156.28" x2="1591.85" y2="2171.92"/>
<line x1="1586.13" y1="2135.24" x2="1597.57" y2="2135.24"/>
<line x1="1586.13" y1="2171.92" x2="1597.57" y2="2171.92"/>
<rect x="1580.41" y="2144.98" width="22.87" height="11.3" fill="#4576a7" stroke-linejoin="miter"/>
<line x1="1580.41" y1="2147.93" x2="1603.29" y2="2147.93" stroke-linecap="butt"/>
<line x1="1632.7" y1="2138.37" x2="1632.7" y2="2143.94"/>
<line x1="1632.7" y1="2155.76" x2="1632.7" y2="2171.05"/>
<line x1="1626.98" y1="2138.37" x2="1638.41" y2="2138.37"/>
<line x1="1626.98" y1="2171.05" x2="1638.41" y2="2171.05"/>
<rect x="1621.26" y="2143.94" width="22.87" height="11.82" fill="#cbdcea" stroke-linejoin="miter"/>
<line x1="1621.26" y1="2148.28" x2="1644.13" y2="2148.28" stroke-linecap="butt"/>
<line x1="1656.04" y1="2138.89" x2="1656.04" y2="2147.93"/>
<line x1="1656.04" y1="2160.97" x2="1656.04" y2="2176.27"/>
<line x1="1650.32" y1="2138.89" x2="1661.75" y2="2138.89"/>
<line x1="1650.32" y1="2176.27" x2="1661.75" y2="2176.27"/>
<rect x="1644.6" y="2147.93" width="22.87" height="13.04" fill="#7db1c7" stroke-linejoin="miter"/>
<line x1="1644.6" y1="2151.41" x2="1667.47" y2="2151.41" stroke-linecap="butt"/>
<line x1="1679.38" y1="2135.24" x2="1679.38" y2="2140.11"/>
<line x1="1679.38" y1="2150.02" x2="1679.38" y2="2164.45"/>
<line x1="1673.66" y1="2135.24" x2="1685.1" y2="2135.24"/>
<line x1="1673.66" y1="2164.45" x2="1685.1" y2="2164.45"/>
<rect x="1667.94" y="2140.11" width="22.87" height="9.91" fill="#4576a7" stroke-linejoin="miter"/>
<line x1="1667.94" y1="2145.33" x2="1690.81" y2="2145.33" stroke-linecap="butt"/>
</g>
<rect x="124.3" y="2101.7" width="1575.5" height="520.8" fill="none" stroke="#000" stroke-width="1.9"/>
<line x1="116.8" y1="2125" x2="124.3" y2="2125" stroke="#000" stroke-width="1.9"/>
<text x="107.6" y="2135" font-size="28.3" text-anchor="end">1.0</text>
<line x1="116.8" y1="2205.6" x2="124.3" y2="2205.6" stroke="#000" stroke-width="1.9"/>
<text x="107.6" y="2215.6" font-size="28.3" text-anchor="end">0.9</text>
<line x1="116.8" y1="2286.2" x2="124.3" y2="2286.2" stroke="#000" stroke-width="1.9"/>
<text x="107.6" y="2296.2" font-size="28.3" text-anchor="end">0.8</text>
<line x1="116.8" y1="2366.8" x2="124.3" y2="2366.8" stroke="#000" stroke-width="1.9"/>
<text x="107.6" y="2376.8" font-size="28.3" text-anchor="end">0.7</text>
<line x1="116.8" y1="2447.4" x2="124.3" y2="2447.4" stroke="#000" stroke-width="1.9"/>
<text x="107.6" y="2457.4" font-size="28.3" text-anchor="end">0.6</text>
<line x1="116.8" y1="2528" x2="124.3" y2="2528" stroke="#000" stroke-width="1.9"/>
<text x="107.6" y="2538" font-size="28.3" text-anchor="end">0.5</text>
<line x1="116.8" y1="2608.6" x2="124.3" y2="2608.6" stroke="#000" stroke-width="1.9"/>
<text x="107.6" y="2618.6" font-size="28.3" text-anchor="end">0.4</text>
<line x1="168.06" y1="2622.5" x2="168.06" y2="2630" stroke="#000" stroke-width="1.9"/>
<text transform="translate(168.06,2657.01) rotate(-20)" x="0" y="7.36" font-size="28.3" text-anchor="middle">T1</text>
<line x1="255.59" y1="2622.5" x2="255.59" y2="2630" stroke="#000" stroke-width="1.9"/>
<text transform="translate(255.59,2657.01) rotate(-20)" x="0" y="7.36" font-size="28.3" text-anchor="middle">T2</text>
<line x1="343.12" y1="2622.5" x2="343.12" y2="2630" stroke="#000" stroke-width="1.9"/>
<text transform="translate(343.12,2657.01) rotate(-20)" x="0" y="7.36" font-size="28.3" text-anchor="middle">T3</text>
<line x1="430.65" y1="2622.5" x2="430.65" y2="2630" stroke="#000" stroke-width="1.9"/>
<text transform="translate(430.65,2657.01) rotate(-20)" x="0" y="7.36" font-size="28.3" text-anchor="middle">T4</text>
<line x1="518.17" y1="2622.5" x2="518.17" y2="2630" stroke="#000" stroke-width="1.9"/>
<text transform="translate(518.17,2657.01) rotate(-20)" x="0" y="7.36" font-size="28.3" text-anchor="middle">T5</text>
<line x1="605.7" y1="2622.5" x2="605.7" y2="2630" stroke="#000" stroke-width="1.9"/>
<text transform="translate(605.7,2657.01) rotate(-20)" x="0" y="7.36" font-size="28.3" text-anchor="middle">T6</text>
<line x1="693.23" y1="2622.5" x2="693.23" y2="2630" stroke="#000" stroke-width="1.9"/>
<text transform="translate(693.23,2657.01) rotate(-20)" x="0" y="7.36" font-size="28.3" text-anchor="middle">T7</text>
<line x1="780.76" y1="2622.5" x2="780.76" y2="2630" stroke="#000" stroke-width="1.9"/>
<text transform="translate(780.76,2657.01) rotate(-20)" x="0" y="7.36" font-size="28.3" text-anchor="middle">T8</text>
<line x1="868.29" y1="2622.5" x2="868.29" y2="2630" stroke="#000" stroke-width="1.9"/>
<text transform="translate(868.29,2657.01) rotate(-20)" x="0" y="7.36" font-size="28.3" text-anchor="middle">T9</text>
<line x1="955.81" y1="2622.5" x2="955.81" y2="2630" stroke="#000" stroke-width="1.9"/>
<text transform="translate(955.81,2659.7) rotate(-20)" x="0" y="7.36" font-size="28.3" text-anchor="middle">T10</text>
<line x1="1043.34" y1="2622.5" x2="1043.34" y2="2630" stroke="#000" stroke-width="1.9"/>
<text transform="translate(1043.34,2659.7) rotate(-20)" x="0" y="7.36" font-size="28.3" text-anchor="middle">T11</text>
<line x1="1130.87" y1="2622.5" x2="1130.87" y2="2630" stroke="#000" stroke-width="1.9"/>
<text transform="translate(1130.87,2659.7) rotate(-20)" x="0" y="7.36" font-size="28.3" text-anchor="middle">T12</text>
<line x1="1218.4" y1="2622.5" x2="1218.4" y2="2630" stroke="#000" stroke-width="1.9"/>
<text transform="translate(1218.4,2659.7) rotate(-20)" x="0" y="7.36" font-size="28.3" text-anchor="middle">T13</text>
<line x1="1305.92" y1="2622.5" x2="1305.92" y2="2630" stroke="#000" stroke-width="1.9"/>
<text transform="translate(1305.92,2659.7) rotate(-20)" x="0" y="7.36" font-size="28.3" text-anchor="middle">T14</text>
<line x1="1393.45" y1="2622.5" x2="1393.45" y2="2630" stroke="#000" stroke-width="1.9"/>
<text transform="translate(1393.45,2659.7) rotate(-20)" x="0" y="7.36" font-size="28.3" text-anchor="middle">T15</text>
<line x1="1480.98" y1="2622.5" x2="1480.98" y2="2630" stroke="#000" stroke-width="1.9"/>
<text transform="translate(1480.98,2659.7) rotate(-20)" x="0" y="7.36" font-size="28.3" text-anchor="middle">T16</text>
<line x1="1568.51" y1="2622.5" x2="1568.51" y2="2630" stroke="#000" stroke-width="1.9"/>
<text transform="translate(1568.51,2659.7) rotate(-20)" x="0" y="7.36" font-size="28.3" text-anchor="middle">T17</text>
<line x1="1656.04" y1="2622.5" x2="1656.04" y2="2630" stroke="#000" stroke-width="1.9"/>
<text transform="translate(1656.04,2659.7) rotate(-20)" x="0" y="7.36" font-size="28.3" text-anchor="middle">T18</text>
<text x="911.55" y="2710" font-size="28.3" text-anchor="middle">Task</text>
<text transform="translate(53.5,2362.1) rotate(-90)" x="0" y="0" font-size="28.3" text-anchor="middle">Dice Score</text>
<rect x="1422.7" y="2479.9" width="263.4" height="127.8" rx="4" ry="4" fill="#fff" fill-opacity="0.8" stroke="#cccccc" stroke-width="1.9"/>
<rect x="1434.1" y="2491.6" width="55.8" height="19.4" fill="#cbdcea" stroke="#33363a" stroke-width="2"/>
<text x="1512" y="2511.3" font-size="28.3">MedSAM</text>
<rect x="1434.1" y="2531.85" width="55.8" height="19.4" fill="#7db1c7" stroke="#33363a" stroke-width="2"/>
<text x="1512" y="2551.55" font-size="28.3">SAM-Med2D</text>
<rect x="1434.1" y="2572.1" width="55.8" height="19.4" fill="#4576a7" stroke="#33363a" stroke-width="2"/>
<text x="1512" y="2591.8" font-size="28.3">Ours</text>
</svg></body></html>
